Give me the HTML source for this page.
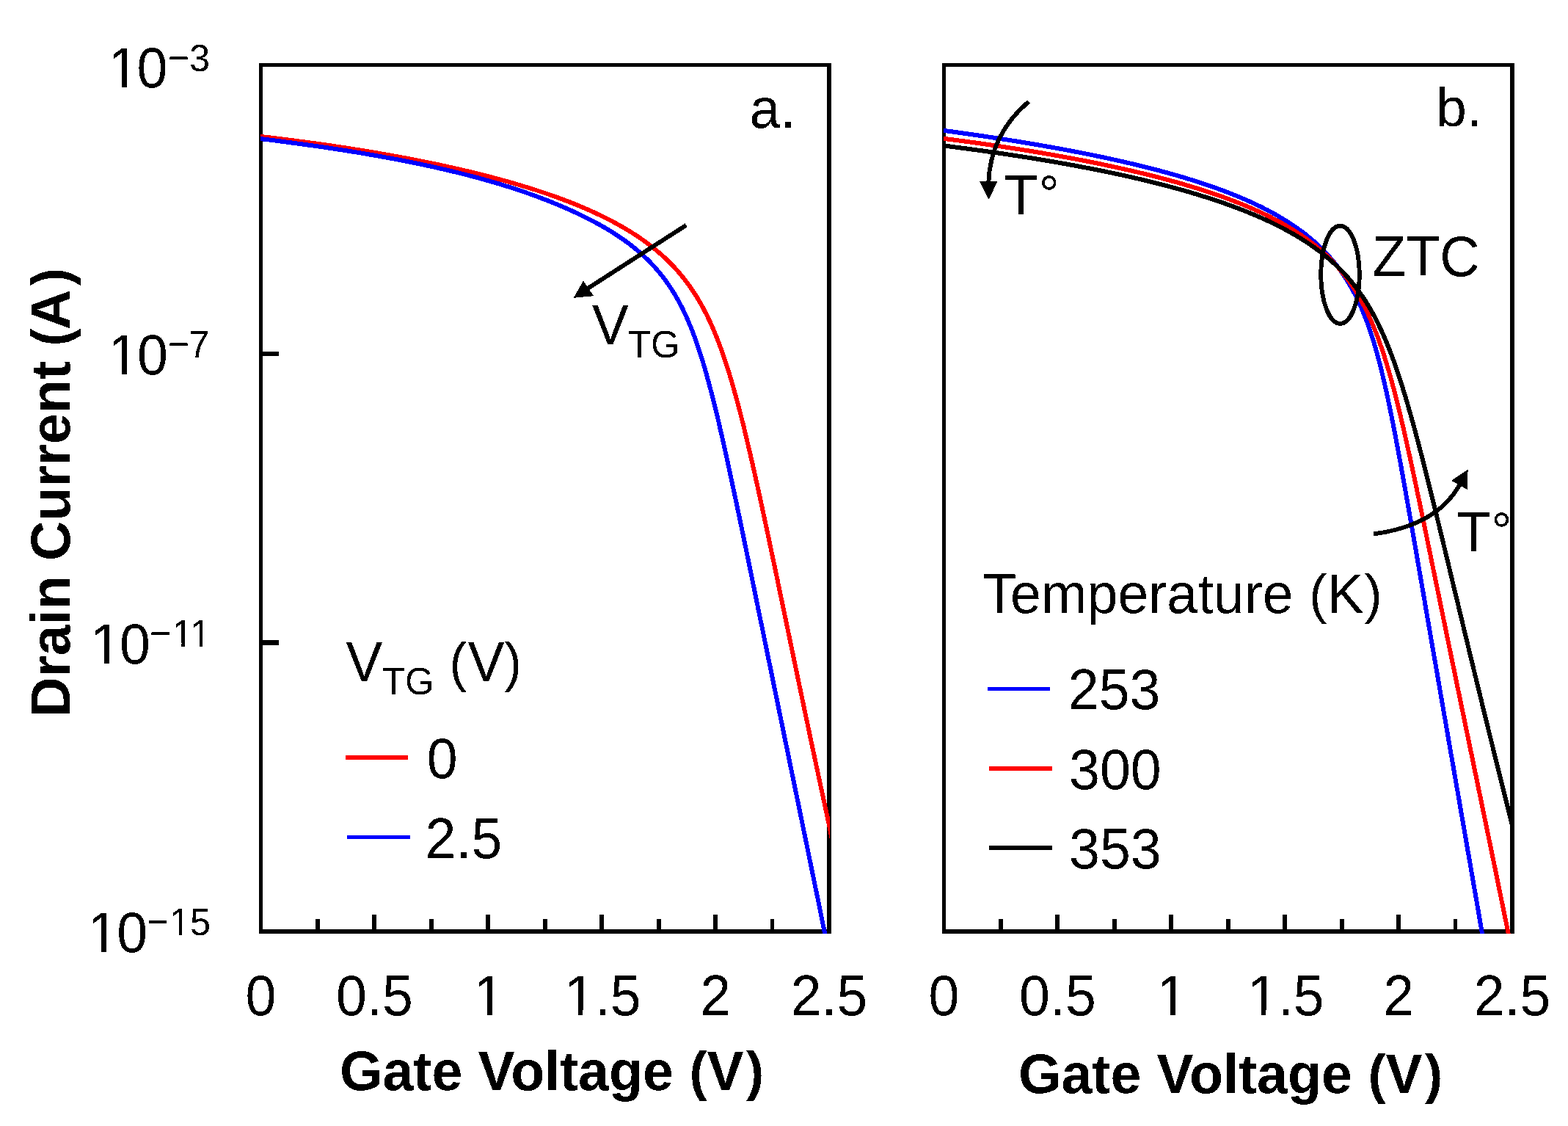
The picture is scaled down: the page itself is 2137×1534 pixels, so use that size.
<!DOCTYPE html>
<html lang="en">
<head>
<meta charset="utf-8">
<title>Drain current versus gate voltage</title>
<style>
html,body{margin:0;padding:0;background:#fff;}
body{width:2137px;height:1534px;overflow:hidden;}
svg{display:block;}
text{font-family:"Liberation Sans", Arial, Helvetica, sans-serif;font-size:75.3px;fill:#000;}
.b{font-weight:bold;}
.ax{fill:none;stroke:#000;stroke-width:5.5;stroke-linejoin:miter;}
.tk{stroke:#000;stroke-width:5.9;fill:none;}
.cv{fill:none;stroke-width:6.0;stroke-linejoin:round;shape-rendering:crispEdges;}
.an{fill:none;stroke:#000;stroke-width:5.9;}
.lh{fill:none;stroke-width:5.5;shape-rendering:crispEdges;}
</style>
</head>
<body>
<svg xmlns="http://www.w3.org/2000/svg" width="2137" height="1534" viewBox="0 0 2137 1534">
<rect x="0" y="0" width="2137" height="1534" fill="#ffffff"/>
<defs>
<filter id="crisp" filterUnits="userSpaceOnUse" x="0" y="0" width="2137" height="1534" color-interpolation-filters="sRGB">
<feComponentTransfer><feFuncR type="discrete" tableValues="0 1"/><feFuncG type="discrete" tableValues="0 1"/><feFuncB type="discrete" tableValues="0 1"/></feComponentTransfer>
</filter>
<clipPath id="ca"><rect x="355.0" y="88.5" width="776.0" height="1183.5"/></clipPath>
<clipPath id="cb"><rect x="1286.0" y="88.5" width="776.0" height="1183.5"/></clipPath>
<clipPath id="k1"><path clip-rule="evenodd" d="M0,0H2137V1534H0ZM150.93,108.31H166.10V116.23H150.93ZM172.75,108.31H187.07V116.23H172.75Z"/></clipPath>
<clipPath id="k2"><path clip-rule="evenodd" d="M0,0H2137V1534H0ZM150.93,484.36H166.10V492.29H150.93ZM172.75,484.36H187.07V492.29H172.75Z"/></clipPath>
<clipPath id="k3"><path clip-rule="evenodd" d="M0,0H2137V1534H0ZM126.83,863.31H142.00V871.23H126.83ZM148.65,863.31H162.97V871.23H148.65ZM237.28,843.13H247.47V849.21H237.28ZM251.94,843.13H261.56V849.21H251.94ZM261.58,843.13H271.77V849.21H261.58ZM276.24,843.13H285.86V849.21H276.24Z"/></clipPath>
<clipPath id="k4"><path clip-rule="evenodd" d="M0,0H2137V1534H0ZM122.93,1241.00H138.10V1248.92H122.93ZM144.75,1241.00H159.07V1248.92H144.75ZM233.58,1220.54H243.77V1226.62H233.58ZM248.24,1220.54H257.86V1226.62H248.24Z"/></clipPath>
<clipPath id="k5"><path clip-rule="evenodd" d="M0,0H2137V1534H0ZM649.13,1323.79H664.30V1331.71H649.13ZM670.95,1323.79H685.27V1331.71H670.95Z"/></clipPath>
<clipPath id="k6"><path clip-rule="evenodd" d="M0,0H2137V1534H0ZM772.63,1323.79H787.80V1331.71H772.63ZM794.45,1323.79H808.77V1331.71H794.45Z"/></clipPath>
<clipPath id="k7"><path clip-rule="evenodd" d="M0,0H2137V1534H0ZM1580.13,1323.79H1595.30V1331.71H1580.13ZM1601.95,1323.79H1616.27V1331.71H1601.95Z"/></clipPath>
<clipPath id="k8"><path clip-rule="evenodd" d="M0,0H2137V1534H0ZM1703.63,1323.79H1718.80V1331.71H1703.63ZM1725.45,1323.79H1739.77V1331.71H1725.45Z"/></clipPath>
</defs>
<g id="figure" filter="url(#crisp)">
<rect x="0" y="0" width="2137" height="1534" fill="#ffffff"/>
<g id="panel-a">
<rect class="ax" x="355.5" y="88.5" width="774.5" height="1180.5"/>
<path class="tk" d="M432.9,1269.0 v-17.0 M510.4,1269.0 v-23.0 M587.9,1269.0 v-17.0 M665.3,1269.0 v-23.0 M742.8,1269.0 v-17.0 M820.2,1269.0 v-23.0 M897.6,1269.0 v-17.0 M975.1,1269.0 v-23.0 M1052.5,1269.0 v-17.0 M355.5,482.0 h24.5 M355.5,875.5 h24.5"/>
<g clip-path="url(#ca)">
<path class="cv" stroke="#ff0000" d="M352.6,185.6 L353.6,185.8 L354.6,185.9 L355.6,186.0 L356.6,186.1 L357.6,186.2 L358.6,186.4 L359.6,186.5 L360.6,186.6 L361.6,186.7 L362.6,186.8 L363.6,186.9 L364.6,187.1 L365.6,187.2 L366.6,187.3 L367.6,187.4 L368.6,187.5 L369.6,187.7 L370.6,187.8 L371.6,187.9 L372.6,188.0 L373.6,188.1 L374.6,188.3 L375.6,188.4 L376.6,188.5 L377.6,188.6 L378.6,188.8 L379.6,188.9 L380.6,189.0 L381.6,189.1 L382.6,189.2 L383.6,189.4 L384.6,189.5 L385.6,189.6 L386.6,189.7 L387.6,189.9 L388.6,190.0 L389.6,190.1 L390.6,190.3 L391.6,190.4 L392.6,190.5 L393.6,190.6 L394.6,190.8 L395.6,190.9 L396.6,191.0 L397.6,191.1 L398.6,191.3 L399.6,191.4 L400.6,191.5 L401.6,191.7 L402.6,191.8 L403.6,191.9 L404.6,192.1 L405.6,192.2 L406.6,192.3 L407.6,192.5 L408.6,192.6 L409.6,192.7 L410.6,192.8 L411.6,193.0 L412.6,193.1 L413.6,193.3 L414.6,193.4 L415.6,193.5 L416.6,193.7 L417.6,193.8 L418.6,193.9 L419.6,194.1 L420.6,194.2 L421.6,194.3 L422.7,194.5 L423.7,194.6 L424.7,194.7 L425.7,194.9 L426.7,195.0 L427.7,195.2 L428.7,195.3 L429.7,195.4 L430.7,195.6 L431.7,195.7 L432.7,195.9 L433.7,196.0 L434.7,196.1 L435.7,196.3 L436.7,196.4 L437.7,196.6 L438.7,196.7 L439.7,196.8 L440.7,197.0 L441.7,197.1 L442.7,197.3 L443.7,197.4 L444.7,197.6 L445.7,197.7 L446.7,197.9 L447.7,198.0 L448.7,198.1 L449.7,198.3 L450.7,198.4 L451.7,198.6 L452.7,198.7 L453.7,198.9 L454.7,199.0 L455.7,199.2 L456.7,199.3 L457.7,199.5 L458.7,199.6 L459.7,199.8 L460.7,199.9 L461.7,200.1 L462.7,200.2 L463.7,200.4 L464.7,200.5 L465.7,200.7 L466.7,200.8 L467.7,201.0 L468.7,201.1 L469.7,201.3 L470.7,201.4 L471.7,201.6 L472.7,201.8 L473.7,201.9 L474.7,202.1 L475.7,202.2 L476.7,202.4 L477.7,202.5 L478.7,202.7 L479.7,202.9 L480.7,203.0 L481.7,203.2 L482.7,203.3 L483.7,203.5 L484.7,203.6 L485.7,203.8 L486.7,204.0 L487.7,204.1 L488.7,204.3 L489.7,204.4 L490.7,204.6 L491.7,204.8 L492.7,204.9 L493.7,205.1 L494.7,205.3 L495.7,205.4 L496.7,205.6 L497.7,205.7 L498.7,205.9 L499.7,206.1 L500.7,206.2 L501.7,206.4 L502.7,206.6 L503.7,206.7 L504.7,206.9 L505.7,207.1 L506.7,207.2 L507.7,207.4 L508.7,207.6 L509.7,207.7 L510.7,207.9 L511.7,208.1 L512.7,208.3 L513.7,208.4 L514.7,208.6 L515.7,208.8 L516.7,208.9 L517.7,209.1 L518.7,209.3 L519.7,209.5 L520.7,209.6 L521.7,209.8 L522.7,210.0 L523.7,210.2 L524.7,210.3 L525.7,210.5 L526.7,210.7 L527.7,210.9 L528.7,211.0 L529.7,211.2 L530.7,211.4 L531.7,211.6 L532.7,211.8 L533.7,211.9 L534.7,212.1 L535.7,212.3 L536.7,212.5 L537.7,212.7 L538.7,212.8 L539.7,213.0 L540.7,213.2 L541.7,213.4 L542.7,213.6 L543.7,213.8 L544.7,213.9 L545.7,214.1 L546.7,214.3 L547.7,214.5 L548.7,214.7 L549.7,214.9 L550.7,215.1 L551.7,215.2 L552.7,215.4 L553.7,215.6 L554.7,215.8 L555.7,216.0 L556.7,216.2 L557.7,216.4 L558.7,216.6 L559.7,216.8 L560.7,217.0 L561.7,217.2 L562.7,217.3 L563.7,217.5 L564.7,217.7 L565.7,217.9 L566.7,218.1 L567.7,218.3 L568.7,218.5 L569.7,218.7 L570.7,218.9 L571.7,219.1 L572.7,219.3 L573.7,219.5 L574.7,219.7 L575.7,219.9 L576.7,220.1 L577.7,220.3 L578.7,220.5 L579.7,220.7 L580.7,220.9 L581.7,221.1 L582.7,221.3 L583.7,221.5 L584.7,221.7 L585.7,221.9 L586.7,222.1 L587.7,222.3 L588.7,222.5 L589.7,222.8 L590.7,223.0 L591.7,223.2 L592.7,223.4 L593.7,223.6 L594.7,223.8 L595.7,224.0 L596.7,224.2 L597.7,224.4 L598.7,224.6 L599.7,224.9 L600.7,225.1 L601.7,225.3 L602.7,225.5 L603.7,225.7 L604.7,225.9 L605.7,226.1 L606.7,226.4 L607.7,226.6 L608.7,226.8 L609.7,227.0 L610.7,227.2 L611.7,227.5 L612.7,227.7 L613.7,227.9 L614.7,228.1 L615.7,228.3 L616.7,228.6 L617.7,228.8 L618.7,229.0 L619.7,229.2 L620.7,229.5 L621.7,229.7 L622.7,229.9 L623.7,230.2 L624.7,230.4 L625.7,230.6 L626.7,230.8 L627.7,231.1 L628.7,231.3 L629.7,231.5 L630.7,231.8 L631.7,232.0 L632.7,232.2 L633.7,232.5 L634.7,232.7 L635.7,232.9 L636.7,233.2 L637.7,233.4 L638.7,233.6 L639.7,233.9 L640.7,234.1 L641.7,234.4 L642.7,234.6 L643.7,234.8 L644.7,235.1 L645.7,235.3 L646.7,235.6 L647.7,235.8 L648.7,236.1 L649.7,236.3 L650.7,236.6 L651.7,236.8 L652.7,237.0 L653.7,237.3 L654.7,237.5 L655.7,237.8 L656.7,238.0 L657.7,238.3 L658.7,238.6 L659.7,238.8 L660.7,239.1 L661.7,239.3 L662.7,239.6 L663.7,239.8 L664.7,240.1 L665.7,240.3 L666.7,240.6 L667.7,240.9 L668.7,241.1 L669.7,241.4 L670.7,241.6 L671.7,241.9 L672.7,242.2 L673.7,242.4 L674.7,242.7 L675.7,243.0 L676.7,243.2 L677.7,243.5 L678.7,243.8 L679.6,244.0 L680.6,244.3 L681.6,244.6 L682.6,244.8 L683.6,245.1 L684.6,245.4 L685.6,245.7 L686.6,245.9 L687.6,246.2 L688.6,246.5 L689.6,246.8 L690.6,247.1 L691.6,247.3 L692.6,247.6 L693.6,247.9 L694.6,248.2 L695.6,248.5 L696.6,248.8 L697.6,249.0 L698.6,249.3 L699.6,249.6 L700.6,249.9 L701.6,250.2 L702.6,250.5 L703.6,250.8 L704.6,251.1 L705.6,251.4 L706.6,251.7 L707.6,252.0 L708.6,252.3 L709.6,252.6 L710.6,252.9 L711.6,253.2 L712.6,253.5 L713.6,253.8 L714.6,254.1 L715.6,254.4 L716.6,254.7 L717.6,255.0 L718.6,255.3 L719.6,255.6 L720.6,255.9 L721.6,256.2 L722.6,256.5 L723.6,256.8 L724.6,257.2 L725.6,257.5 L726.6,257.8 L727.6,258.1 L728.6,258.4 L729.6,258.7 L730.6,259.1 L731.6,259.4 L732.6,259.7 L733.6,260.0 L734.6,260.4 L735.6,260.7 L736.6,261.0 L737.6,261.4 L738.6,261.7 L739.6,262.0 L740.6,262.4 L741.6,262.7 L742.6,263.0 L743.6,263.4 L744.6,263.7 L745.6,264.0 L746.6,264.4 L747.6,264.7 L748.6,265.1 L749.6,265.4 L750.6,265.8 L751.5,266.1 L752.5,266.5 L753.5,266.8 L754.5,267.2 L755.5,267.5 L756.5,267.9 L757.5,268.2 L758.5,268.6 L759.5,269.0 L760.5,269.3 L761.5,269.7 L762.5,270.1 L763.5,270.4 L764.5,270.8 L765.5,271.2 L766.5,271.5 L767.5,271.9 L768.5,272.3 L769.5,272.7 L770.5,273.0 L771.5,273.4 L772.5,273.8 L773.5,274.2 L774.5,274.6 L775.5,275.0 L776.5,275.3 L777.5,275.7 L778.5,276.1 L779.5,276.5 L780.5,276.9 L781.5,277.3 L782.5,277.7 L783.5,278.1 L784.5,278.5 L785.5,278.9 L786.5,279.3 L787.5,279.7 L788.5,280.2 L789.5,280.6 L790.5,281.0 L791.5,281.4 L792.5,281.8 L793.5,282.2 L794.5,282.7 L795.5,283.1 L796.5,283.5 L797.5,283.9 L798.5,284.4 L799.5,284.8 L800.5,285.2 L801.4,285.7 L802.4,286.1 L803.4,286.6 L804.4,287.0 L805.4,287.5 L806.4,287.9 L807.4,288.4 L808.4,288.8 L809.4,289.3 L810.4,289.7 L811.4,290.2 L812.4,290.6 L813.4,291.1 L814.4,291.6 L815.4,292.1 L816.4,292.5 L817.4,293.0 L818.4,293.5 L819.4,294.0 L820.4,294.4 L821.4,294.9 L822.4,295.4 L823.4,295.9 L824.4,296.4 L825.4,296.9 L826.4,297.4 L827.4,297.9 L828.4,298.4 L829.4,298.9 L830.4,299.4 L831.4,300.0 L832.4,300.5 L833.4,301.0 L834.4,301.5 L835.4,302.1 L836.4,302.6 L837.4,303.1 L838.4,303.7 L839.4,304.2 L840.4,304.8 L841.3,305.3 L842.3,305.9 L843.3,306.4 L844.3,307.0 L845.3,307.5 L846.3,308.1 L847.3,308.7 L848.3,309.2 L849.3,309.8 L850.3,310.4 L851.3,311.0 L852.3,311.6 L853.3,312.2 L854.3,312.8 L855.3,313.4 L856.3,314.0 L857.3,314.6 L858.3,315.2 L859.3,315.8 L860.3,316.4 L861.3,317.1 L862.3,317.7 L863.3,318.3 L864.3,319.0 L865.3,319.6 L866.3,320.3 L867.3,320.9 L868.3,321.6 L869.3,322.3 L870.3,322.9 L871.3,323.6 L872.3,324.3 L873.3,325.0 L874.3,325.7 L875.3,326.4 L876.3,327.1 L877.2,327.8 L878.2,328.5 L879.2,329.2 L880.2,330.0 L881.2,330.7 L882.2,331.4 L883.2,332.2 L884.2,332.9 L885.2,333.7 L886.2,334.4 L887.2,335.2 L888.2,336.0 L889.2,336.8 L890.2,337.6 L891.2,338.4 L892.2,339.2 L893.2,340.0 L894.2,340.8 L895.2,341.7 L896.2,342.5 L897.2,343.3 L898.2,344.2 L899.2,345.1 L900.2,345.9 L901.2,346.8 L902.2,347.7 L903.2,348.6 L904.2,349.5 L905.2,350.4 L906.2,351.3 L907.2,352.3 L908.2,353.2 L909.2,354.2 L910.2,355.1 L911.2,356.1 L912.2,357.1 L913.2,358.1 L914.2,359.1 L915.2,360.1 L916.2,361.2 L917.2,362.2 L918.2,363.3 L919.1,364.3 L920.1,365.4 L921.1,366.5 L922.1,367.6 L923.1,368.7 L924.1,369.9 L925.1,371.0 L926.1,372.2 L927.1,373.4 L928.1,374.6 L929.1,375.8 L930.1,377.0 L931.1,378.2 L932.1,379.5 L933.1,380.8 L934.1,382.0 L935.1,383.4 L936.1,384.7 L937.1,386.0 L938.1,387.4 L939.1,388.8 L940.1,390.2 L941.1,391.6 L942.1,393.0 L943.1,394.5 L944.1,396.0 L945.1,397.5 L946.1,399.0 L947.1,400.6 L948.1,402.1 L949.1,403.7 L950.1,405.3 L951.1,407.0 L952.1,408.7 L953.1,410.4 L954.1,412.1 L955.1,413.8 L956.1,415.6 L957.1,417.4 L958.1,419.3 L959.1,421.1 L960.1,423.0 L961.1,425.0 L962.1,426.9 L963.1,428.9 L964.1,430.9 L965.1,433.0 L966.1,435.1 L967.1,437.2 L968.1,439.4 L969.1,441.6 L970.1,443.8 L971.1,446.1 L972.1,448.4 L973.1,450.7 L974.1,453.1 L975.1,455.6 L976.1,458.0 L977.1,460.5 L978.1,463.1 L979.1,465.7 L980.1,468.3 L981.1,471.0 L982.1,473.7 L983.1,476.4 L984.1,479.2 L985.1,482.1 L986.1,485.0 L987.1,487.9 L988.1,490.9 L989.1,493.9 L990.1,497.0 L991.1,500.1 L992.1,503.2 L993.1,506.4 L994.1,509.7 L995.1,513.0 L996.1,516.3 L997.1,519.7 L998.1,523.1 L999.1,526.6 L1000.1,530.1 L1001.1,533.6 L1002.1,537.2 L1003.1,540.8 L1004.1,544.5 L1005.1,548.2 L1006.1,551.9 L1007.1,555.7 L1008.1,559.5 L1009.1,563.4 L1010.1,567.3 L1011.1,571.2 L1012.1,575.2 L1013.1,579.2 L1014.1,583.2 L1015.1,587.3 L1016.0,591.4 L1017.0,595.5 L1018.0,599.7 L1019.0,603.9 L1020.0,608.1 L1021.0,612.3 L1022.0,616.6 L1023.0,620.9 L1024.0,625.2 L1025.0,629.5 L1026.0,633.9 L1027.0,638.2 L1028.0,642.7 L1028.9,647.1 L1029.9,651.5 L1030.9,656.0 L1031.9,660.4 L1032.9,664.9 L1033.9,669.4 L1034.9,674.0 L1035.9,678.5 L1036.9,683.1 L1037.9,687.6 L1038.8,692.2 L1039.8,696.8 L1040.8,701.4 L1041.8,706.0 L1042.8,710.7 L1043.8,715.3 L1044.8,720.0 L1045.8,724.6 L1046.8,729.3 L1047.8,734.0 L1048.7,738.6 L1049.7,743.3 L1050.7,748.0 L1051.7,752.7 L1052.7,757.4 L1053.7,762.2 L1054.7,766.9 L1055.7,771.6 L1056.7,776.4 L1057.7,781.1 L1058.7,785.8 L1059.7,790.6 L1060.6,795.3 L1061.6,800.1 L1062.6,804.9 L1063.6,809.6 L1064.6,814.4 L1065.6,819.2 L1066.6,824.0 L1067.6,828.7 L1068.6,833.5 L1069.6,838.3 L1070.6,843.1 L1071.6,847.9 L1072.6,852.7 L1073.6,857.5 L1074.6,862.3 L1075.6,867.1 L1076.6,871.9 L1077.6,876.7 L1078.6,881.5 L1079.6,886.3 L1080.6,891.1 L1081.6,895.9 L1082.6,900.7 L1083.6,905.5 L1084.6,910.3 L1085.6,915.1 L1086.6,920.0 L1087.6,924.8 L1088.6,929.6 L1089.6,934.4 L1090.6,939.2 L1091.7,944.0 L1092.7,948.9 L1093.7,953.7 L1094.7,958.5 L1095.7,963.3 L1096.7,968.1 L1097.7,973.0 L1098.7,977.8 L1099.8,982.6 L1100.8,987.4 L1101.8,992.3 L1102.8,997.1 L1103.8,1001.9 L1104.8,1006.7 L1105.9,1011.6 L1106.9,1016.4 L1107.9,1021.2 L1108.9,1026.0 L1110.0,1030.9 L1111.0,1035.7 L1112.0,1040.5 L1113.0,1045.3 L1114.1,1050.2 L1115.1,1055.0 L1116.1,1059.8 L1117.2,1064.6 L1118.2,1069.5 L1119.2,1074.3 L1120.3,1079.1 L1121.3,1083.9 L1122.4,1088.8 L1123.4,1093.6 L1124.4,1098.4 L1125.5,1103.2 L1126.5,1108.0 L1127.6,1112.9 L1128.6,1117.7 L1129.6,1122.5 L1130.6,1127.4 L1131.6,1132.2 L1132.6,1137.0 L1133.6,1141.9 L1134.6,1146.7 L1135.6,1151.5 L1136.6,1156.4 L1137.6,1161.2 L1138.6,1166.0 L1139.6,1170.9 L1140.6,1175.7 L1141.6,1180.5 L1142.6,1185.4 L1143.6,1190.2 L1144.6,1195.1"/>
<path class="cv" stroke="#0000ff" d="M352.6,188.7 L353.6,188.9 L354.6,189.0 L355.6,189.1 L356.6,189.3 L357.6,189.4 L358.6,189.5 L359.7,189.6 L360.7,189.8 L361.7,189.9 L362.7,190.0 L363.7,190.1 L364.7,190.3 L365.7,190.4 L366.7,190.5 L367.7,190.6 L368.7,190.8 L369.7,190.9 L370.7,191.0 L371.7,191.1 L372.7,191.3 L373.7,191.4 L374.7,191.5 L375.7,191.6 L376.7,191.8 L377.7,191.9 L378.7,192.0 L379.7,192.2 L380.7,192.3 L381.7,192.4 L382.7,192.5 L383.7,192.7 L384.7,192.8 L385.7,192.9 L386.7,193.1 L387.7,193.2 L388.7,193.3 L389.7,193.5 L390.7,193.6 L391.7,193.7 L392.7,193.9 L393.7,194.0 L394.7,194.1 L395.7,194.3 L396.7,194.4 L397.7,194.5 L398.7,194.7 L399.7,194.8 L400.7,194.9 L401.7,195.1 L402.7,195.2 L403.7,195.3 L404.7,195.5 L405.7,195.6 L406.7,195.7 L407.7,195.9 L408.7,196.0 L409.7,196.1 L410.7,196.3 L411.7,196.4 L412.7,196.6 L413.7,196.7 L414.7,196.8 L415.7,197.0 L416.7,197.1 L417.7,197.3 L418.7,197.4 L419.7,197.5 L420.7,197.7 L421.7,197.8 L422.7,198.0 L423.8,198.1 L424.8,198.2 L425.8,198.4 L426.8,198.5 L427.8,198.7 L428.8,198.8 L429.8,199.0 L430.8,199.1 L431.8,199.2 L432.8,199.4 L433.8,199.5 L434.8,199.7 L435.8,199.8 L436.8,200.0 L437.8,200.1 L438.8,200.3 L439.8,200.4 L440.8,200.5 L441.8,200.7 L442.8,200.8 L443.8,201.0 L444.8,201.1 L445.8,201.3 L446.8,201.4 L447.8,201.6 L448.8,201.7 L449.8,201.9 L450.8,202.0 L451.8,202.2 L452.8,202.3 L453.8,202.5 L454.8,202.6 L455.8,202.8 L456.8,202.9 L457.8,203.1 L458.8,203.3 L459.8,203.4 L460.8,203.6 L461.8,203.7 L462.8,203.9 L463.8,204.0 L464.8,204.2 L465.8,204.3 L466.8,204.5 L467.8,204.6 L468.8,204.8 L469.8,205.0 L470.8,205.1 L471.8,205.3 L472.8,205.4 L473.8,205.6 L474.8,205.8 L475.8,205.9 L476.8,206.1 L477.8,206.2 L478.8,206.4 L479.8,206.6 L480.8,206.7 L481.8,206.9 L482.8,207.0 L483.8,207.2 L484.8,207.4 L485.8,207.5 L486.8,207.7 L487.9,207.9 L488.9,208.0 L489.9,208.2 L490.9,208.4 L491.9,208.5 L492.9,208.7 L493.9,208.9 L494.9,209.0 L495.9,209.2 L496.9,209.4 L497.9,209.5 L498.9,209.7 L499.9,209.9 L500.9,210.0 L501.9,210.2 L502.9,210.4 L503.9,210.6 L504.9,210.7 L505.9,210.9 L506.9,211.1 L507.9,211.3 L508.9,211.4 L509.9,211.6 L510.9,211.8 L511.9,212.0 L512.9,212.1 L513.9,212.3 L514.9,212.5 L515.9,212.7 L516.9,212.8 L517.9,213.0 L518.9,213.2 L519.9,213.4 L520.9,213.6 L521.9,213.7 L522.9,213.9 L523.9,214.1 L524.9,214.3 L525.9,214.5 L526.9,214.6 L527.9,214.8 L528.9,215.0 L529.9,215.2 L530.9,215.4 L531.9,215.6 L532.9,215.8 L533.9,215.9 L534.9,216.1 L535.9,216.3 L536.9,216.5 L537.9,216.7 L538.9,216.9 L539.9,217.1 L540.9,217.3 L541.9,217.4 L542.9,217.6 L543.9,217.8 L544.9,218.0 L545.9,218.2 L546.9,218.4 L547.9,218.6 L548.9,218.8 L549.9,219.0 L550.9,219.2 L551.9,219.4 L552.9,219.6 L553.9,219.8 L554.9,220.0 L555.9,220.2 L556.9,220.4 L557.9,220.6 L558.9,220.8 L559.9,221.0 L560.9,221.2 L561.9,221.4 L562.9,221.6 L563.9,221.8 L564.9,222.0 L565.9,222.2 L566.9,222.4 L567.9,222.6 L568.9,222.8 L569.9,223.0 L570.9,223.2 L571.9,223.4 L572.9,223.6 L573.9,223.9 L574.9,224.1 L575.9,224.3 L576.9,224.5 L577.9,224.7 L578.9,224.9 L579.9,225.1 L580.9,225.3 L581.9,225.6 L582.9,225.8 L583.9,226.0 L584.9,226.2 L585.9,226.4 L586.9,226.6 L587.9,226.9 L588.9,227.1 L589.9,227.3 L590.9,227.5 L591.9,227.7 L592.9,228.0 L593.9,228.2 L594.9,228.4 L595.9,228.6 L596.9,228.9 L597.9,229.1 L598.9,229.3 L599.9,229.5 L600.9,229.8 L601.9,230.0 L602.9,230.2 L603.9,230.5 L604.9,230.7 L605.9,230.9 L606.9,231.1 L607.9,231.4 L608.9,231.6 L609.9,231.8 L610.9,232.1 L611.9,232.3 L612.9,232.6 L613.9,232.8 L614.9,233.0 L615.9,233.3 L616.9,233.5 L617.9,233.8 L618.9,234.0 L619.9,234.2 L620.9,234.5 L621.9,234.7 L622.9,235.0 L623.9,235.2 L624.9,235.5 L625.9,235.7 L626.9,236.0 L627.9,236.2 L628.9,236.5 L629.9,236.7 L630.9,237.0 L631.9,237.2 L632.9,237.5 L633.9,237.7 L634.9,238.0 L635.9,238.2 L636.9,238.5 L637.9,238.7 L638.9,239.0 L639.9,239.3 L640.9,239.5 L641.9,239.8 L642.9,240.0 L643.9,240.3 L644.9,240.6 L645.9,240.8 L646.9,241.1 L647.9,241.4 L648.9,241.6 L649.9,241.9 L650.9,242.2 L651.9,242.4 L652.9,242.7 L653.9,243.0 L654.9,243.3 L655.9,243.5 L656.9,243.8 L657.9,244.1 L658.9,244.4 L659.9,244.6 L660.9,244.9 L661.9,245.2 L662.9,245.5 L663.9,245.8 L664.9,246.1 L665.9,246.3 L666.9,246.6 L667.9,246.9 L668.9,247.2 L669.9,247.5 L670.9,247.8 L671.8,248.1 L672.8,248.4 L673.8,248.7 L674.8,248.9 L675.8,249.2 L676.8,249.5 L677.8,249.8 L678.8,250.1 L679.8,250.4 L680.8,250.7 L681.8,251.0 L682.8,251.3 L683.8,251.6 L684.8,251.9 L685.8,252.2 L686.8,252.6 L687.8,252.9 L688.8,253.2 L689.8,253.5 L690.8,253.8 L691.8,254.1 L692.8,254.4 L693.8,254.7 L694.8,255.1 L695.8,255.4 L696.8,255.7 L697.8,256.0 L698.8,256.3 L699.7,256.7 L700.7,257.0 L701.7,257.3 L702.7,257.6 L703.7,258.0 L704.7,258.3 L705.7,258.6 L706.7,258.9 L707.7,259.3 L708.7,259.6 L709.7,259.9 L710.7,260.3 L711.7,260.6 L712.7,261.0 L713.7,261.3 L714.7,261.6 L715.7,262.0 L716.7,262.3 L717.7,262.7 L718.7,263.0 L719.6,263.4 L720.6,263.7 L721.6,264.1 L722.6,264.4 L723.6,264.8 L724.6,265.1 L725.6,265.5 L726.6,265.9 L727.6,266.2 L728.6,266.6 L729.6,266.9 L730.6,267.3 L731.6,267.7 L732.6,268.0 L733.6,268.4 L734.6,268.8 L735.6,269.1 L736.5,269.5 L737.5,269.9 L738.5,270.3 L739.5,270.7 L740.5,271.0 L741.5,271.4 L742.5,271.8 L743.5,272.2 L744.5,272.6 L745.5,273.0 L746.5,273.3 L747.5,273.7 L748.5,274.1 L749.5,274.5 L750.5,274.9 L751.4,275.3 L752.4,275.7 L753.4,276.1 L754.4,276.5 L755.4,276.9 L756.4,277.3 L757.4,277.7 L758.4,278.1 L759.4,278.6 L760.4,279.0 L761.4,279.4 L762.4,279.8 L763.4,280.2 L764.4,280.6 L765.3,281.1 L766.3,281.5 L767.3,281.9 L768.3,282.3 L769.3,282.8 L770.3,283.2 L771.3,283.6 L772.3,284.1 L773.3,284.5 L774.3,285.0 L775.3,285.4 L776.3,285.8 L777.3,286.3 L778.2,286.7 L779.2,287.2 L780.2,287.6 L781.2,288.1 L782.2,288.6 L783.2,289.0 L784.2,289.5 L785.2,289.9 L786.2,290.4 L787.2,290.9 L788.2,291.4 L789.2,291.8 L790.2,292.3 L791.2,292.8 L792.2,293.3 L793.1,293.7 L794.1,294.2 L795.1,294.7 L796.1,295.2 L797.1,295.7 L798.1,296.2 L799.1,296.7 L800.1,297.2 L801.1,297.7 L802.1,298.2 L803.1,298.7 L804.1,299.2 L805.1,299.7 L806.1,300.3 L807.1,300.8 L808.1,301.3 L809.1,301.8 L810.1,302.4 L811.0,302.9 L812.0,303.4 L813.0,304.0 L814.0,304.5 L815.0,305.0 L816.0,305.6 L817.0,306.1 L818.0,306.7 L819.0,307.3 L820.0,307.8 L821.0,308.4 L822.0,309.0 L823.0,309.5 L824.0,310.1 L825.0,310.7 L826.0,311.3 L827.0,311.9 L828.0,312.5 L829.0,313.1 L830.0,313.7 L831.0,314.3 L832.0,314.9 L833.0,315.5 L834.0,316.1 L835.0,316.7 L836.0,317.4 L837.0,318.0 L838.0,318.6 L839.0,319.3 L840.0,319.9 L841.0,320.6 L842.0,321.2 L843.0,321.9 L844.0,322.6 L845.0,323.3 L846.0,323.9 L847.0,324.6 L848.0,325.3 L849.0,326.0 L850.0,326.7 L851.0,327.4 L852.0,328.1 L853.0,328.9 L854.0,329.6 L855.0,330.3 L856.0,331.1 L857.0,331.8 L858.0,332.6 L859.0,333.3 L860.0,334.1 L861.0,334.9 L862.0,335.7 L863.0,336.5 L864.0,337.3 L865.0,338.1 L866.0,338.9 L867.0,339.7 L868.0,340.6 L869.0,341.4 L870.0,342.2 L871.0,343.1 L872.0,344.0 L873.0,344.9 L874.0,345.7 L875.0,346.6 L876.0,347.5 L877.0,348.5 L878.0,349.4 L879.0,350.3 L880.0,351.3 L881.0,352.2 L882.0,353.2 L883.0,354.2 L884.0,355.2 L885.0,356.2 L886.0,357.2 L887.0,358.3 L888.0,359.3 L889.0,360.4 L890.0,361.4 L891.0,362.5 L892.0,363.6 L893.0,364.7 L894.0,365.9 L895.0,367.0 L896.0,368.2 L897.0,369.4 L898.0,370.6 L899.0,371.8 L900.0,373.0 L901.0,374.2 L902.0,375.5 L903.0,376.8 L904.0,378.1 L905.0,379.4 L906.0,380.7 L907.0,382.1 L908.0,383.5 L909.0,384.9 L910.0,386.3 L911.0,387.8 L912.0,389.2 L913.0,390.7 L914.0,392.2 L915.0,393.8 L916.0,395.4 L917.0,396.9 L918.0,398.6 L919.1,400.2 L920.1,401.9 L921.1,403.6 L922.1,405.3 L923.1,407.1 L924.1,408.9 L925.1,410.7 L926.1,412.6 L927.1,414.5 L928.1,416.4 L929.1,418.4 L930.1,420.4 L931.1,422.4 L932.1,424.5 L933.1,426.6 L934.1,428.7 L935.1,430.9 L936.1,433.1 L937.1,435.4 L938.1,437.7 L939.1,440.1 L940.1,442.5 L941.1,444.9 L942.1,447.4 L943.1,449.9 L944.1,452.5 L945.1,455.1 L946.1,457.8 L947.1,460.5 L948.1,463.3 L949.1,466.1 L950.1,468.9 L951.1,471.9 L952.1,474.8 L953.1,477.8 L954.1,480.9 L955.1,484.0 L956.1,487.2 L957.1,490.4 L958.1,493.6 L959.1,497.0 L960.1,500.3 L961.1,503.7 L962.1,507.2 L963.1,510.7 L964.0,514.3 L965.0,517.9 L966.0,521.5 L967.0,525.2 L968.0,529.0 L969.0,532.8 L970.0,536.6 L971.0,540.5 L972.0,544.4 L973.0,548.4 L974.0,552.4 L975.0,556.4 L976.0,560.5 L977.0,564.6 L978.0,568.8 L979.0,573.0 L980.0,577.2 L980.9,581.5 L981.9,585.8 L982.9,590.1 L983.9,594.4 L984.9,598.8 L985.9,603.2 L986.9,607.6 L987.9,612.1 L988.9,616.6 L989.9,621.1 L990.9,625.6 L991.9,630.2 L992.8,634.7 L993.8,639.3 L994.8,643.9 L995.8,648.6 L996.8,653.2 L997.8,657.9 L998.8,662.5 L999.8,667.2 L1000.8,671.9 L1001.8,676.6 L1002.8,681.4 L1003.8,686.1 L1004.8,690.9 L1005.8,695.6 L1006.8,700.4 L1007.8,705.2 L1008.8,710.0 L1009.8,714.8 L1010.8,719.6 L1011.8,724.4 L1012.8,729.2 L1013.8,734.0 L1014.8,738.9 L1015.8,743.7 L1016.8,748.6 L1017.8,753.4 L1018.8,758.3 L1019.8,763.1 L1020.8,768.0 L1021.8,772.9 L1022.8,777.7 L1023.8,782.6 L1024.8,787.5 L1025.8,792.4 L1026.8,797.3 L1027.8,802.2 L1028.8,807.0 L1029.8,811.9 L1030.8,816.8 L1031.8,821.7 L1032.8,826.6 L1033.8,831.6 L1034.8,836.5 L1035.8,841.4 L1036.8,846.3 L1037.9,851.2 L1038.9,856.1 L1039.9,861.0 L1040.9,865.9 L1041.9,870.9 L1042.9,875.8 L1043.9,880.7 L1044.9,885.6 L1045.9,890.5 L1046.9,895.5 L1048.0,900.4 L1049.0,905.3 L1050.0,910.2 L1051.0,915.2 L1052.0,920.1 L1053.0,925.0 L1054.0,930.0 L1055.0,934.9 L1056.0,939.8 L1057.1,944.7 L1058.1,949.7 L1059.1,954.6 L1060.1,959.5 L1061.1,964.5 L1062.1,969.4 L1063.1,974.3 L1064.2,979.3 L1065.2,984.2 L1066.2,989.1 L1067.2,994.1 L1068.2,999.0 L1069.2,1003.9 L1070.2,1008.9 L1071.3,1013.8 L1072.3,1018.7 L1073.3,1023.7 L1074.3,1028.6 L1075.3,1033.6 L1076.3,1038.5 L1077.3,1043.4 L1078.4,1048.4 L1079.4,1053.3 L1080.4,1058.2 L1081.4,1063.2 L1082.4,1068.1 L1083.4,1073.0 L1084.4,1078.0 L1085.5,1082.9 L1086.5,1087.9 L1087.5,1092.8 L1088.5,1097.7 L1089.5,1102.7 L1090.5,1107.6 L1091.5,1112.5 L1092.6,1117.5 L1093.6,1122.4 L1094.6,1127.4 L1095.6,1132.3 L1096.6,1137.2 L1097.6,1142.2 L1098.7,1147.1 L1099.7,1152.0 L1100.7,1157.0 L1101.7,1161.9 L1102.7,1166.9 L1103.7,1171.8 L1104.7,1176.7 L1105.7,1181.7 L1106.8,1186.6 L1107.8,1191.6 L1108.8,1196.5 L1109.8,1201.4 L1110.8,1206.4 L1111.8,1211.3 L1112.8,1216.2 L1113.9,1221.2 L1114.9,1226.1 L1115.9,1231.1 L1116.9,1236.0 L1117.9,1240.9 L1118.9,1245.9 L1119.9,1250.8 L1120.9,1255.8 L1121.9,1260.7 L1123.0,1265.6 L1124.0,1270.6 L1125.0,1275.5 L1126.0,1280.5 L1127.0,1285.4 L1128.0,1290.3 L1129.0,1295.3 L1130.0,1300.2 L1131.0,1305.2 L1132.0,1310.1 L1133.0,1315.1 L1134.0,1320.0 L1135.0,1324.9 L1136.0,1329.9"/>
</g>
</g>
<g id="panel-b">
<rect class="ax" x="1286.5" y="88.5" width="774.5" height="1180.5"/>
<path class="tk" d="M1364.0,1269.0 v-17.0 M1441.4,1269.0 v-23.0 M1518.8,1269.0 v-17.0 M1596.3,1269.0 v-23.0 M1673.8,1269.0 v-17.0 M1751.2,1269.0 v-23.0 M1828.7,1269.0 v-17.0 M1906.1,1269.0 v-23.0 M1983.5,1269.0 v-17.0"/>
<g clip-path="url(#cb)">
<path class="cv" stroke="#0000ff" d="M1283.5,177.5 L1284.5,177.6 L1285.5,177.8 L1286.5,177.9 L1287.5,178.0 L1288.5,178.2 L1289.5,178.3 L1290.5,178.4 L1291.5,178.6 L1292.5,178.7 L1293.5,178.8 L1294.5,179.0 L1295.5,179.1 L1296.5,179.2 L1297.5,179.4 L1298.5,179.5 L1299.5,179.7 L1300.5,179.8 L1301.5,179.9 L1302.5,180.1 L1303.5,180.2 L1304.5,180.4 L1305.5,180.5 L1306.5,180.6 L1307.5,180.8 L1308.5,180.9 L1309.5,181.1 L1310.5,181.2 L1311.5,181.3 L1312.5,181.5 L1313.5,181.6 L1314.5,181.8 L1315.5,181.9 L1316.5,182.0 L1317.5,182.2 L1318.5,182.3 L1319.5,182.5 L1320.5,182.6 L1321.5,182.8 L1322.5,182.9 L1323.5,183.1 L1324.5,183.2 L1325.5,183.3 L1326.5,183.5 L1327.5,183.6 L1328.5,183.8 L1329.5,183.9 L1330.5,184.1 L1331.5,184.2 L1332.5,184.4 L1333.5,184.5 L1334.5,184.7 L1335.5,184.8 L1336.5,184.9 L1337.5,185.1 L1338.5,185.2 L1339.5,185.4 L1340.5,185.5 L1341.5,185.7 L1342.5,185.8 L1343.5,186.0 L1344.5,186.1 L1345.5,186.3 L1346.5,186.4 L1347.5,186.6 L1348.5,186.7 L1349.5,186.9 L1350.5,187.0 L1351.5,187.2 L1352.5,187.3 L1353.5,187.5 L1354.5,187.7 L1355.5,187.8 L1356.5,188.0 L1357.5,188.1 L1358.5,188.3 L1359.5,188.4 L1360.5,188.6 L1361.5,188.7 L1362.5,188.9 L1363.5,189.0 L1364.5,189.2 L1365.5,189.3 L1366.5,189.5 L1367.5,189.7 L1368.5,189.8 L1369.5,190.0 L1370.5,190.1 L1371.5,190.3 L1372.5,190.4 L1373.5,190.6 L1374.5,190.8 L1375.5,190.9 L1376.5,191.1 L1377.4,191.2 L1378.4,191.4 L1379.4,191.6 L1380.4,191.7 L1381.4,191.9 L1382.4,192.0 L1383.4,192.2 L1384.4,192.4 L1385.4,192.5 L1386.4,192.7 L1387.4,192.9 L1388.4,193.0 L1389.4,193.2 L1390.4,193.3 L1391.4,193.5 L1392.4,193.7 L1393.4,193.8 L1394.4,194.0 L1395.4,194.2 L1396.4,194.3 L1397.4,194.5 L1398.4,194.7 L1399.4,194.8 L1400.4,195.0 L1401.4,195.2 L1402.4,195.3 L1403.4,195.5 L1404.4,195.7 L1405.4,195.8 L1406.4,196.0 L1407.4,196.2 L1408.4,196.3 L1409.4,196.5 L1410.4,196.7 L1411.4,196.9 L1412.4,197.0 L1413.4,197.2 L1414.4,197.4 L1415.4,197.5 L1416.4,197.7 L1417.4,197.9 L1418.4,198.1 L1419.4,198.2 L1420.4,198.4 L1421.4,198.6 L1422.4,198.8 L1423.4,198.9 L1424.4,199.1 L1425.4,199.3 L1426.4,199.5 L1427.4,199.6 L1428.4,199.8 L1429.4,200.0 L1430.4,200.2 L1431.4,200.3 L1432.4,200.5 L1433.4,200.7 L1434.4,200.9 L1435.4,201.1 L1436.4,201.2 L1437.4,201.4 L1438.4,201.6 L1439.4,201.8 L1440.4,202.0 L1441.4,202.1 L1442.4,202.3 L1443.4,202.5 L1444.4,202.7 L1445.4,202.9 L1446.4,203.1 L1447.4,203.3 L1448.4,203.4 L1449.4,203.6 L1450.4,203.8 L1451.4,204.0 L1452.4,204.2 L1453.4,204.4 L1454.4,204.6 L1455.4,204.7 L1456.4,204.9 L1457.4,205.1 L1458.4,205.3 L1459.4,205.5 L1460.4,205.7 L1461.4,205.9 L1462.4,206.1 L1463.4,206.3 L1464.4,206.5 L1465.4,206.7 L1466.4,206.8 L1467.4,207.0 L1468.4,207.2 L1469.4,207.4 L1470.4,207.6 L1471.4,207.8 L1472.4,208.0 L1473.4,208.2 L1474.4,208.4 L1475.4,208.6 L1476.4,208.8 L1477.4,209.0 L1478.4,209.2 L1479.4,209.4 L1480.4,209.6 L1481.4,209.8 L1482.4,210.0 L1483.4,210.2 L1484.4,210.4 L1485.4,210.6 L1486.4,210.8 L1487.4,211.0 L1488.4,211.2 L1489.4,211.4 L1490.4,211.6 L1491.4,211.8 L1492.4,212.0 L1493.4,212.2 L1494.4,212.4 L1495.4,212.7 L1496.4,212.9 L1497.4,213.1 L1498.4,213.3 L1499.4,213.5 L1500.4,213.7 L1501.4,213.9 L1502.4,214.1 L1503.4,214.3 L1504.4,214.5 L1505.4,214.8 L1506.5,215.0 L1507.5,215.2 L1508.5,215.4 L1509.5,215.6 L1510.5,215.8 L1511.5,216.1 L1512.5,216.3 L1513.5,216.5 L1514.5,216.7 L1515.5,216.9 L1516.5,217.1 L1517.5,217.4 L1518.5,217.6 L1519.5,217.8 L1520.5,218.0 L1521.5,218.2 L1522.5,218.5 L1523.5,218.7 L1524.5,218.9 L1525.5,219.1 L1526.5,219.4 L1527.5,219.6 L1528.5,219.8 L1529.5,220.1 L1530.5,220.3 L1531.5,220.5 L1532.5,220.7 L1533.5,221.0 L1534.5,221.2 L1535.5,221.4 L1536.5,221.7 L1537.5,221.9 L1538.5,222.1 L1539.5,222.4 L1540.5,222.6 L1541.5,222.8 L1542.5,223.1 L1543.5,223.3 L1544.5,223.5 L1545.5,223.8 L1546.5,224.0 L1547.5,224.3 L1548.5,224.5 L1549.5,224.7 L1550.5,225.0 L1551.5,225.2 L1552.5,225.5 L1553.5,225.7 L1554.5,226.0 L1555.5,226.2 L1556.5,226.5 L1557.5,226.7 L1558.5,226.9 L1559.5,227.2 L1560.5,227.4 L1561.5,227.7 L1562.5,227.9 L1563.5,228.2 L1564.5,228.5 L1565.5,228.7 L1566.5,229.0 L1567.5,229.2 L1568.5,229.5 L1569.5,229.7 L1570.5,230.0 L1571.5,230.2 L1572.5,230.5 L1573.5,230.8 L1574.5,231.0 L1575.5,231.3 L1576.5,231.6 L1577.5,231.8 L1578.5,232.1 L1579.5,232.3 L1580.5,232.6 L1581.5,232.9 L1582.5,233.1 L1583.5,233.4 L1584.5,233.7 L1585.5,234.0 L1586.5,234.2 L1587.5,234.5 L1588.5,234.8 L1589.5,235.0 L1590.5,235.3 L1591.5,235.6 L1592.5,235.9 L1593.5,236.2 L1594.5,236.4 L1595.5,236.7 L1596.5,237.0 L1597.5,237.3 L1598.6,237.6 L1599.6,237.8 L1600.6,238.1 L1601.6,238.4 L1602.6,238.7 L1603.6,239.0 L1604.6,239.3 L1605.6,239.6 L1606.6,239.9 L1607.6,240.2 L1608.6,240.5 L1609.6,240.7 L1610.6,241.0 L1611.6,241.3 L1612.6,241.6 L1613.6,241.9 L1614.6,242.2 L1615.6,242.5 L1616.6,242.8 L1617.6,243.1 L1618.6,243.5 L1619.6,243.8 L1620.6,244.1 L1621.6,244.4 L1622.6,244.7 L1623.6,245.0 L1624.6,245.3 L1625.6,245.6 L1626.6,245.9 L1627.6,246.3 L1628.6,246.6 L1629.6,246.9 L1630.6,247.2 L1631.6,247.5 L1632.6,247.9 L1633.6,248.2 L1634.6,248.5 L1635.6,248.8 L1636.7,249.2 L1637.7,249.5 L1638.7,249.8 L1639.7,250.1 L1640.7,250.5 L1641.7,250.8 L1642.7,251.1 L1643.7,251.5 L1644.7,251.8 L1645.7,252.2 L1646.7,252.5 L1647.7,252.9 L1648.7,253.2 L1649.7,253.5 L1650.7,253.9 L1651.7,254.2 L1652.7,254.6 L1653.7,254.9 L1654.7,255.3 L1655.7,255.7 L1656.7,256.0 L1657.7,256.4 L1658.7,256.7 L1659.7,257.1 L1660.7,257.5 L1661.7,257.8 L1662.8,258.2 L1663.8,258.6 L1664.8,258.9 L1665.8,259.3 L1666.8,259.7 L1667.8,260.1 L1668.8,260.4 L1669.8,260.8 L1670.8,261.2 L1671.8,261.6 L1672.8,262.0 L1673.8,262.3 L1674.8,262.7 L1675.8,263.1 L1676.8,263.5 L1677.8,263.9 L1678.8,264.3 L1679.8,264.7 L1680.8,265.1 L1681.8,265.5 L1682.9,265.9 L1683.9,266.3 L1684.9,266.7 L1685.9,267.2 L1686.9,267.6 L1687.9,268.0 L1688.9,268.4 L1689.9,268.8 L1690.9,269.2 L1691.9,269.7 L1692.9,270.1 L1693.9,270.5 L1694.9,271.0 L1695.9,271.4 L1696.9,271.8 L1697.9,272.3 L1698.9,272.7 L1700.0,273.2 L1701.0,273.6 L1702.0,274.1 L1703.0,274.5 L1704.0,275.0 L1705.0,275.4 L1706.0,275.9 L1707.0,276.3 L1708.0,276.8 L1709.0,277.3 L1710.0,277.8 L1711.0,278.2 L1712.0,278.7 L1713.0,279.2 L1714.1,279.7 L1715.1,280.2 L1716.1,280.6 L1717.1,281.1 L1718.1,281.6 L1719.1,282.1 L1720.1,282.6 L1721.1,283.1 L1722.1,283.6 L1723.1,284.2 L1724.1,284.7 L1725.1,285.2 L1726.1,285.7 L1727.2,286.2 L1728.2,286.8 L1729.2,287.3 L1730.2,287.8 L1731.2,288.4 L1732.2,288.9 L1733.2,289.5 L1734.2,290.0 L1735.2,290.6 L1736.2,291.1 L1737.2,291.7 L1738.3,292.2 L1739.3,292.8 L1740.3,293.4 L1741.3,294.0 L1742.3,294.5 L1743.3,295.1 L1744.3,295.7 L1745.3,296.3 L1746.3,296.9 L1747.3,297.5 L1748.3,298.1 L1749.4,298.7 L1750.4,299.4 L1751.4,300.0 L1752.4,300.6 L1753.4,301.3 L1754.4,301.9 L1755.4,302.5 L1756.4,303.2 L1757.4,303.8 L1758.5,304.5 L1759.5,305.2 L1760.5,305.8 L1761.5,306.5 L1762.5,307.2 L1763.5,307.9 L1764.5,308.6 L1765.5,309.3 L1766.5,310.0 L1767.6,310.7 L1768.6,311.4 L1769.6,312.1 L1770.6,312.9 L1771.6,313.6 L1772.6,314.3 L1773.6,315.1 L1774.6,315.8 L1775.6,316.6 L1776.7,317.4 L1777.7,318.2 L1778.7,318.9 L1779.7,319.7 L1780.7,320.5 L1781.7,321.4 L1782.7,322.2 L1783.7,323.0 L1784.8,323.8 L1785.8,324.7 L1786.8,325.5 L1787.8,326.4 L1788.8,327.3 L1789.8,328.1 L1790.8,329.0 L1791.8,329.9 L1792.9,330.8 L1793.9,331.7 L1794.9,332.7 L1795.9,333.6 L1796.9,334.5 L1797.9,335.5 L1798.9,336.5 L1800.0,337.5 L1801.0,338.4 L1802.0,339.4 L1803.0,340.5 L1804.0,341.5 L1805.0,342.5 L1806.0,343.6 L1807.0,344.7 L1808.1,345.7 L1809.1,346.8 L1810.1,347.9 L1811.1,349.1 L1812.1,350.2 L1813.1,351.3 L1814.1,352.5 L1815.2,353.7 L1816.2,354.9 L1817.2,356.1 L1818.2,357.3 L1819.2,358.6 L1820.2,359.8 L1821.2,361.1 L1822.2,362.4 L1823.3,363.7 L1824.3,365.1 L1825.3,366.4 L1826.3,367.8 L1827.3,369.2 L1828.3,370.7 L1829.3,372.1 L1830.3,373.6 L1831.4,375.1 L1832.4,376.6 L1833.4,378.1 L1834.4,379.7 L1835.4,381.3 L1836.4,382.9 L1837.4,384.5 L1838.4,386.2 L1839.4,387.9 L1840.5,389.7 L1841.5,391.4 L1842.5,393.2 L1843.5,395.0 L1844.5,396.9 L1845.5,398.8 L1846.5,400.7 L1847.5,402.7 L1848.5,404.7 L1849.5,406.7 L1850.5,408.8 L1851.5,410.9 L1852.5,413.1 L1853.5,415.3 L1854.5,417.5 L1855.5,419.8 L1856.5,422.1 L1857.5,424.5 L1858.5,426.9 L1859.5,429.4 L1860.5,431.9 L1861.5,434.5 L1862.5,437.1 L1863.5,439.8 L1864.5,442.5 L1865.5,445.3 L1866.5,448.2 L1867.4,451.1 L1868.4,454.0 L1869.4,457.1 L1870.4,460.1 L1871.4,463.3 L1872.4,466.5 L1873.3,469.7 L1874.3,473.1 L1875.3,476.4 L1876.3,479.9 L1877.2,483.4 L1878.2,487.0 L1879.2,490.6 L1880.1,494.3 L1881.1,498.1 L1882.1,501.9 L1883.0,505.9 L1884.0,509.8 L1885.0,513.9 L1885.9,518.0 L1886.9,522.1 L1887.8,526.3 L1888.8,530.6 L1889.8,535.0 L1890.7,539.4 L1891.7,543.8 L1892.6,548.4 L1893.6,552.9 L1894.5,557.6 L1895.5,562.2 L1896.5,567.0 L1897.4,571.8 L1898.4,576.6 L1899.3,581.5 L1900.3,586.4 L1901.3,591.4 L1902.2,596.4 L1903.2,601.5 L1904.1,606.6 L1905.1,611.7 L1906.1,616.9 L1907.0,622.1 L1908.0,627.4 L1909.0,632.6 L1909.9,638.0 L1910.9,643.3 L1911.9,648.7 L1912.8,654.1 L1913.8,659.5 L1914.8,664.9 L1915.8,670.4 L1916.7,675.9 L1917.7,681.4 L1918.7,686.9 L1919.7,692.5 L1920.6,698.0 L1921.6,703.6 L1922.6,709.2 L1923.6,714.8 L1924.6,720.4 L1925.5,726.1 L1926.5,731.7 L1927.5,737.4 L1928.5,743.1 L1929.5,748.7 L1930.5,754.4 L1931.4,760.1 L1932.4,765.8 L1933.4,771.6 L1934.4,777.3 L1935.4,783.0 L1936.4,788.8 L1937.4,794.5 L1938.4,800.3 L1939.4,806.0 L1940.4,811.8 L1941.4,817.5 L1942.3,823.3 L1943.3,829.1 L1944.3,834.9 L1945.3,840.7 L1946.3,846.4 L1947.3,852.2 L1948.3,858.0 L1949.3,863.8 L1950.3,869.6 L1951.3,875.4 L1952.3,881.2 L1953.3,887.0 L1954.3,892.8 L1955.4,898.6 L1956.4,904.5 L1957.4,910.3 L1958.4,916.1 L1959.4,921.9 L1960.4,927.7 L1961.4,933.5 L1962.4,939.4 L1963.4,945.2 L1964.4,951.0 L1965.4,956.8 L1966.4,962.6 L1967.4,968.5 L1968.4,974.3 L1969.5,980.1 L1970.5,986.0 L1971.5,991.8 L1972.5,997.6 L1973.5,1003.4 L1974.5,1009.3 L1975.5,1015.1 L1976.5,1020.9 L1977.5,1026.8 L1978.6,1032.6 L1979.6,1038.4 L1980.6,1044.2 L1981.6,1050.1 L1982.6,1055.9 L1983.6,1061.7 L1984.6,1067.6 L1985.6,1073.4 L1986.7,1079.2 L1987.7,1085.1 L1988.7,1090.9 L1989.7,1096.7 L1990.7,1102.6 L1991.7,1108.4 L1992.7,1114.2 L1993.8,1120.1 L1994.8,1125.9 L1995.8,1131.8 L1996.8,1137.6 L1997.8,1143.4 L1998.8,1149.3 L1999.8,1155.1 L2000.8,1160.9 L2001.9,1166.8 L2002.9,1172.6 L2003.9,1178.4 L2004.9,1184.3 L2005.9,1190.1 L2006.9,1195.9 L2007.9,1201.8 L2008.9,1207.6 L2010.0,1213.5 L2011.0,1219.3 L2012.0,1225.1 L2013.0,1231.0 L2014.0,1236.8 L2015.0,1242.6 L2016.0,1248.5 L2017.0,1254.3 L2018.0,1260.2 L2019.0,1266.0 L2020.0,1271.8 L2021.0,1277.7 L2022.0,1283.5 L2023.0,1289.3 L2024.0,1295.2 L2025.0,1301.0 L2026.0,1306.9 L2027.0,1312.7 L2028.0,1318.5 L2029.0,1324.4"/>
<path class="cv" stroke="#ff0000" d="M1283.4,188.5 L1284.4,188.6 L1285.4,188.7 L1286.4,188.9 L1287.4,189.0 L1288.4,189.1 L1289.4,189.2 L1290.4,189.4 L1291.4,189.5 L1292.4,189.6 L1293.4,189.7 L1294.4,189.9 L1295.4,190.0 L1296.4,190.1 L1297.4,190.3 L1298.4,190.4 L1299.4,190.5 L1300.4,190.6 L1301.4,190.8 L1302.4,190.9 L1303.4,191.0 L1304.4,191.2 L1305.4,191.3 L1306.4,191.4 L1307.4,191.6 L1308.5,191.7 L1309.5,191.8 L1310.5,192.0 L1311.5,192.1 L1312.5,192.2 L1313.5,192.4 L1314.5,192.5 L1315.5,192.6 L1316.5,192.8 L1317.5,192.9 L1318.5,193.0 L1319.5,193.2 L1320.5,193.3 L1321.5,193.4 L1322.5,193.6 L1323.5,193.7 L1324.5,193.8 L1325.5,194.0 L1326.5,194.1 L1327.5,194.3 L1328.5,194.4 L1329.5,194.5 L1330.5,194.7 L1331.5,194.8 L1332.5,195.0 L1333.5,195.1 L1334.5,195.2 L1335.5,195.4 L1336.5,195.5 L1337.5,195.7 L1338.5,195.8 L1339.5,195.9 L1340.5,196.1 L1341.5,196.2 L1342.5,196.4 L1343.5,196.5 L1344.5,196.7 L1345.5,196.8 L1346.5,196.9 L1347.5,197.1 L1348.5,197.2 L1349.5,197.4 L1350.5,197.5 L1351.5,197.7 L1352.5,197.8 L1353.5,198.0 L1354.5,198.1 L1355.5,198.3 L1356.5,198.4 L1357.5,198.5 L1358.5,198.7 L1359.5,198.8 L1360.5,199.0 L1361.5,199.1 L1362.5,199.3 L1363.5,199.4 L1364.5,199.6 L1365.5,199.7 L1366.5,199.9 L1367.5,200.0 L1368.5,200.2 L1369.5,200.3 L1370.5,200.5 L1371.5,200.6 L1372.5,200.8 L1373.5,200.9 L1374.5,201.1 L1375.5,201.3 L1376.5,201.4 L1377.5,201.6 L1378.5,201.7 L1379.5,201.9 L1380.5,202.0 L1381.5,202.2 L1382.5,202.3 L1383.5,202.5 L1384.5,202.7 L1385.5,202.8 L1386.5,203.0 L1387.5,203.1 L1388.5,203.3 L1389.5,203.4 L1390.5,203.6 L1391.5,203.8 L1392.5,203.9 L1393.5,204.1 L1394.5,204.2 L1395.5,204.4 L1396.5,204.6 L1397.5,204.7 L1398.5,204.9 L1399.5,205.0 L1400.5,205.2 L1401.5,205.4 L1402.5,205.5 L1403.5,205.7 L1404.5,205.9 L1405.5,206.0 L1406.5,206.2 L1407.5,206.4 L1408.5,206.5 L1409.5,206.7 L1410.5,206.9 L1411.5,207.0 L1412.5,207.2 L1413.5,207.4 L1414.5,207.5 L1415.5,207.7 L1416.5,207.9 L1417.5,208.0 L1418.5,208.2 L1419.5,208.4 L1420.5,208.5 L1421.5,208.7 L1422.5,208.9 L1423.5,209.0 L1424.5,209.2 L1425.5,209.4 L1426.5,209.6 L1427.5,209.7 L1428.5,209.9 L1429.5,210.1 L1430.5,210.3 L1431.5,210.4 L1432.5,210.6 L1433.5,210.8 L1434.5,211.0 L1435.5,211.1 L1436.5,211.3 L1437.5,211.5 L1438.5,211.7 L1439.5,211.8 L1440.5,212.0 L1441.5,212.2 L1442.5,212.4 L1443.5,212.6 L1444.5,212.7 L1445.5,212.9 L1446.5,213.1 L1447.5,213.3 L1448.5,213.5 L1449.5,213.6 L1450.5,213.8 L1451.5,214.0 L1452.5,214.2 L1453.5,214.4 L1454.5,214.6 L1455.5,214.7 L1456.5,214.9 L1457.5,215.1 L1458.5,215.3 L1459.5,215.5 L1460.5,215.7 L1461.5,215.9 L1462.5,216.1 L1463.5,216.2 L1464.5,216.4 L1465.5,216.6 L1466.5,216.8 L1467.5,217.0 L1468.5,217.2 L1469.5,217.4 L1470.5,217.6 L1471.5,217.8 L1472.5,218.0 L1473.5,218.1 L1474.5,218.3 L1475.5,218.5 L1476.5,218.7 L1477.5,218.9 L1478.5,219.1 L1479.5,219.3 L1480.5,219.5 L1481.5,219.7 L1482.5,219.9 L1483.5,220.1 L1484.5,220.3 L1485.5,220.5 L1486.5,220.7 L1487.5,220.9 L1488.5,221.1 L1489.5,221.3 L1490.5,221.5 L1491.5,221.7 L1492.5,221.9 L1493.5,222.1 L1494.5,222.3 L1495.5,222.5 L1496.5,222.7 L1497.5,222.9 L1498.5,223.1 L1499.5,223.3 L1500.5,223.6 L1501.5,223.8 L1502.5,224.0 L1503.5,224.2 L1504.5,224.4 L1505.5,224.6 L1506.5,224.8 L1507.5,225.0 L1508.5,225.2 L1509.5,225.4 L1510.5,225.7 L1511.5,225.9 L1512.5,226.1 L1513.5,226.3 L1514.5,226.5 L1515.5,226.7 L1516.5,226.9 L1517.5,227.2 L1518.5,227.4 L1519.5,227.6 L1520.5,227.8 L1521.5,228.0 L1522.5,228.2 L1523.5,228.5 L1524.5,228.7 L1525.5,228.9 L1526.5,229.1 L1527.5,229.4 L1528.5,229.6 L1529.5,229.8 L1530.5,230.0 L1531.5,230.2 L1532.5,230.5 L1533.5,230.7 L1534.5,230.9 L1535.5,231.2 L1536.5,231.4 L1537.5,231.6 L1538.5,231.8 L1539.5,232.1 L1540.5,232.3 L1541.5,232.5 L1542.5,232.8 L1543.5,233.0 L1544.5,233.2 L1545.5,233.5 L1546.5,233.7 L1547.5,233.9 L1548.5,234.2 L1549.5,234.4 L1550.5,234.6 L1551.5,234.9 L1552.5,235.1 L1553.5,235.4 L1554.5,235.6 L1555.5,235.8 L1556.5,236.1 L1557.5,236.3 L1558.5,236.6 L1559.5,236.8 L1560.5,237.1 L1561.5,237.3 L1562.5,237.6 L1563.5,237.8 L1564.5,238.0 L1565.5,238.3 L1566.5,238.5 L1567.5,238.8 L1568.5,239.0 L1569.5,239.3 L1570.5,239.5 L1571.5,239.8 L1572.5,240.1 L1573.5,240.3 L1574.5,240.6 L1575.5,240.8 L1576.5,241.1 L1577.5,241.3 L1578.5,241.6 L1579.5,241.9 L1580.5,242.1 L1581.5,242.4 L1582.5,242.6 L1583.5,242.9 L1584.5,243.2 L1585.5,243.4 L1586.5,243.7 L1587.5,244.0 L1588.5,244.2 L1589.5,244.5 L1590.5,244.8 L1591.5,245.0 L1592.5,245.3 L1593.5,245.6 L1594.5,245.9 L1595.5,246.1 L1596.5,246.4 L1597.5,246.7 L1598.5,247.0 L1599.5,247.2 L1600.5,247.5 L1601.5,247.8 L1602.5,248.1 L1603.5,248.3 L1604.5,248.6 L1605.5,248.9 L1606.5,249.2 L1607.5,249.5 L1608.5,249.8 L1609.5,250.1 L1610.5,250.3 L1611.5,250.6 L1612.5,250.9 L1613.5,251.2 L1614.5,251.5 L1615.5,251.8 L1616.5,252.1 L1617.5,252.4 L1618.5,252.7 L1619.5,253.0 L1620.5,253.3 L1621.5,253.6 L1622.5,253.9 L1623.5,254.2 L1624.5,254.5 L1625.5,254.8 L1626.5,255.1 L1627.5,255.4 L1628.5,255.7 L1629.6,256.0 L1630.6,256.3 L1631.6,256.6 L1632.6,257.0 L1633.6,257.3 L1634.6,257.6 L1635.6,257.9 L1636.6,258.2 L1637.6,258.5 L1638.6,258.9 L1639.6,259.2 L1640.6,259.5 L1641.6,259.8 L1642.6,260.1 L1643.6,260.5 L1644.6,260.8 L1645.6,261.1 L1646.6,261.5 L1647.6,261.8 L1648.6,262.1 L1649.6,262.5 L1650.6,262.8 L1651.6,263.1 L1652.6,263.5 L1653.6,263.8 L1654.6,264.2 L1655.6,264.5 L1656.6,264.8 L1657.6,265.2 L1658.6,265.5 L1659.6,265.9 L1660.6,266.2 L1661.6,266.6 L1662.6,266.9 L1663.6,267.3 L1664.7,267.7 L1665.7,268.0 L1666.7,268.4 L1667.7,268.7 L1668.7,269.1 L1669.7,269.5 L1670.7,269.8 L1671.7,270.2 L1672.7,270.6 L1673.7,270.9 L1674.7,271.3 L1675.7,271.7 L1676.7,272.1 L1677.7,272.4 L1678.7,272.8 L1679.7,273.2 L1680.7,273.6 L1681.7,274.0 L1682.7,274.4 L1683.7,274.8 L1684.7,275.1 L1685.7,275.5 L1686.7,275.9 L1687.8,276.3 L1688.8,276.7 L1689.8,277.1 L1690.8,277.5 L1691.8,277.9 L1692.8,278.3 L1693.8,278.8 L1694.8,279.2 L1695.8,279.6 L1696.8,280.0 L1697.8,280.4 L1698.8,280.8 L1699.8,281.3 L1700.8,281.7 L1701.8,282.1 L1702.8,282.5 L1703.8,283.0 L1704.8,283.4 L1705.9,283.9 L1706.9,284.3 L1707.9,284.7 L1708.9,285.2 L1709.9,285.6 L1710.9,286.1 L1711.9,286.5 L1712.9,287.0 L1713.9,287.4 L1714.9,287.9 L1715.9,288.4 L1716.9,288.8 L1717.9,289.3 L1718.9,289.8 L1719.9,290.2 L1721.0,290.7 L1722.0,291.2 L1723.0,291.7 L1724.0,292.2 L1725.0,292.6 L1726.0,293.1 L1727.0,293.6 L1728.0,294.1 L1729.0,294.6 L1730.0,295.1 L1731.0,295.6 L1732.0,296.1 L1733.1,296.7 L1734.1,297.2 L1735.1,297.7 L1736.1,298.2 L1737.1,298.7 L1738.1,299.3 L1739.1,299.8 L1740.1,300.3 L1741.1,300.9 L1742.1,301.4 L1743.1,302.0 L1744.2,302.5 L1745.2,303.1 L1746.2,303.6 L1747.2,304.2 L1748.2,304.8 L1749.2,305.4 L1750.2,305.9 L1751.2,306.5 L1752.2,307.1 L1753.2,307.7 L1754.3,308.3 L1755.3,308.9 L1756.3,309.5 L1757.3,310.1 L1758.3,310.7 L1759.3,311.3 L1760.3,311.9 L1761.3,312.5 L1762.3,313.2 L1763.4,313.8 L1764.4,314.5 L1765.4,315.1 L1766.4,315.7 L1767.4,316.4 L1768.4,317.1 L1769.4,317.7 L1770.4,318.4 L1771.5,319.1 L1772.5,319.8 L1773.5,320.4 L1774.5,321.1 L1775.5,321.8 L1776.5,322.5 L1777.5,323.3 L1778.5,324.0 L1779.6,324.7 L1780.6,325.4 L1781.6,326.2 L1782.6,326.9 L1783.6,327.7 L1784.6,328.4 L1785.6,329.2 L1786.7,330.0 L1787.7,330.7 L1788.7,331.5 L1789.7,332.3 L1790.7,333.1 L1791.7,333.9 L1792.7,334.8 L1793.8,335.6 L1794.8,336.4 L1795.8,337.3 L1796.8,338.1 L1797.8,339.0 L1798.8,339.8 L1799.8,340.7 L1800.9,341.6 L1801.9,342.5 L1802.9,343.4 L1803.9,344.3 L1804.9,345.3 L1805.9,346.2 L1807.0,347.1 L1808.0,348.1 L1809.0,349.1 L1810.0,350.0 L1811.0,351.0 L1812.0,352.0 L1813.0,353.0 L1814.1,354.1 L1815.1,355.1 L1816.1,356.2 L1817.1,357.2 L1818.1,358.3 L1819.1,359.4 L1820.2,360.5 L1821.2,361.6 L1822.2,362.7 L1823.2,363.9 L1824.2,365.0 L1825.2,366.2 L1826.2,367.4 L1827.3,368.6 L1828.3,369.8 L1829.3,371.0 L1830.3,372.3 L1831.3,373.6 L1832.3,374.8 L1833.3,376.1 L1834.3,377.5 L1835.4,378.8 L1836.4,380.2 L1837.4,381.5 L1838.4,382.9 L1839.4,384.4 L1840.4,385.8 L1841.4,387.3 L1842.4,388.7 L1843.4,390.2 L1844.4,391.8 L1845.5,393.3 L1846.5,394.9 L1847.5,396.5 L1848.5,398.1 L1849.5,399.7 L1850.5,401.4 L1851.5,403.1 L1852.5,404.8 L1853.5,406.6 L1854.5,408.4 L1855.5,410.2 L1856.5,412.0 L1857.5,413.9 L1858.5,415.8 L1859.5,417.7 L1860.5,419.7 L1861.5,421.7 L1862.5,423.7 L1863.5,425.7 L1864.5,427.8 L1865.5,430.0 L1866.5,432.1 L1867.4,434.3 L1868.4,436.5 L1869.4,438.8 L1870.4,441.1 L1871.4,443.5 L1872.4,445.9 L1873.4,448.3 L1874.4,450.8 L1875.3,453.3 L1876.3,455.8 L1877.3,458.4 L1878.3,461.0 L1879.3,463.7 L1880.2,466.4 L1881.2,469.2 L1882.2,472.0 L1883.2,474.9 L1884.1,477.8 L1885.1,480.7 L1886.1,483.7 L1887.1,486.7 L1888.0,489.8 L1889.0,492.9 L1890.0,496.1 L1890.9,499.3 L1891.9,502.5 L1892.9,505.8 L1893.8,509.2 L1894.8,512.6 L1895.8,516.0 L1896.7,519.5 L1897.7,523.0 L1898.6,526.6 L1899.6,530.2 L1900.6,533.9 L1901.5,537.6 L1902.5,541.3 L1903.4,545.1 L1904.4,548.9 L1905.3,552.8 L1906.3,556.7 L1907.3,560.6 L1908.2,564.6 L1909.2,568.6 L1910.1,572.6 L1911.1,576.7 L1912.1,580.8 L1913.0,585.0 L1914.0,589.1 L1914.9,593.4 L1915.9,597.6 L1916.9,601.9 L1917.8,606.2 L1918.8,610.5 L1919.7,614.8 L1920.7,619.2 L1921.7,623.6 L1922.6,628.0 L1923.6,632.5 L1924.6,636.9 L1925.5,641.4 L1926.5,645.9 L1927.5,650.5 L1928.4,655.0 L1929.4,659.6 L1930.4,664.2 L1931.3,668.8 L1932.3,673.4 L1933.3,678.0 L1934.3,682.6 L1935.2,687.3 L1936.2,692.0 L1937.2,696.7 L1938.2,701.4 L1939.1,706.1 L1940.1,710.8 L1941.1,715.5 L1942.1,720.3 L1943.1,725.0 L1944.0,729.8 L1945.0,734.5 L1946.0,739.3 L1947.0,744.1 L1948.0,748.9 L1949.0,753.7 L1950.0,758.5 L1950.9,763.3 L1951.9,768.1 L1952.9,772.9 L1953.9,777.7 L1954.9,782.6 L1955.9,787.4 L1956.9,792.3 L1957.9,797.1 L1958.9,802.0 L1959.9,806.8 L1960.9,811.7 L1961.9,816.5 L1962.9,821.4 L1963.9,826.3 L1964.9,831.1 L1965.9,836.0 L1966.9,840.9 L1967.9,845.7 L1968.9,850.6 L1969.9,855.5 L1970.9,860.4 L1971.9,865.3 L1972.9,870.2 L1973.9,875.1 L1974.9,880.0 L1975.9,884.8 L1976.9,889.7 L1977.9,894.6 L1978.9,899.5 L1980.0,904.4 L1981.0,909.3 L1982.0,914.2 L1983.0,919.1 L1984.0,924.0 L1985.0,929.0 L1986.0,933.9 L1987.0,938.8 L1988.1,943.7 L1989.1,948.6 L1990.1,953.5 L1991.1,958.4 L1992.1,963.3 L1993.1,968.2 L1994.2,973.1 L1995.2,978.0 L1996.2,983.0 L1997.2,987.9 L1998.2,992.8 L1999.2,997.7 L2000.3,1002.6 L2001.3,1007.5 L2002.3,1012.4 L2003.3,1017.4 L2004.3,1022.3 L2005.4,1027.2 L2006.4,1032.1 L2007.4,1037.0 L2008.4,1041.9 L2009.4,1046.9 L2010.4,1051.8 L2011.5,1056.7 L2012.5,1061.6 L2013.5,1066.5 L2014.5,1071.5 L2015.5,1076.4 L2016.6,1081.3 L2017.6,1086.2 L2018.6,1091.1 L2019.6,1096.1 L2020.6,1101.0 L2021.6,1105.9 L2022.7,1110.8 L2023.7,1115.7 L2024.7,1120.7 L2025.7,1125.6 L2026.7,1130.5 L2027.7,1135.4 L2028.8,1140.3 L2029.8,1145.3 L2030.8,1150.2 L2031.8,1155.1 L2032.8,1160.0 L2033.8,1165.0 L2034.8,1169.9 L2035.9,1174.8 L2036.9,1179.7 L2037.9,1184.6 L2038.9,1189.6 L2039.9,1194.5 L2040.9,1199.4 L2041.9,1204.3 L2042.9,1209.3 L2043.9,1214.2 L2044.9,1219.1 L2045.9,1224.0 L2046.9,1229.0 L2048.0,1233.9 L2049.0,1238.8 L2050.0,1243.7 L2051.0,1248.7 L2052.0,1253.6 L2053.0,1258.5 L2054.0,1263.4 L2055.0,1268.4 L2056.0,1273.3 L2057.0,1278.2 L2058.0,1283.1 L2059.0,1288.1 L2060.0,1293.0 L2061.0,1297.9 L2062.0,1302.9 L2063.0,1307.8 L2064.0,1312.7 L2065.0,1317.6 L2066.0,1322.6 L2067.0,1327.5"/>
<path class="cv" stroke="#000000" d="M1283.5,198.1 L1284.5,198.3 L1285.5,198.4 L1286.5,198.5 L1287.5,198.7 L1288.5,198.8 L1289.5,198.9 L1290.5,199.0 L1291.5,199.2 L1292.5,199.3 L1293.5,199.4 L1294.5,199.5 L1295.5,199.7 L1296.5,199.8 L1297.5,199.9 L1298.5,200.0 L1299.5,200.2 L1300.5,200.3 L1301.5,200.4 L1302.6,200.6 L1303.6,200.7 L1304.6,200.8 L1305.6,201.0 L1306.6,201.1 L1307.6,201.2 L1308.6,201.3 L1309.6,201.5 L1310.6,201.6 L1311.6,201.7 L1312.6,201.9 L1313.6,202.0 L1314.6,202.1 L1315.6,202.3 L1316.6,202.4 L1317.6,202.5 L1318.6,202.7 L1319.6,202.8 L1320.6,202.9 L1321.6,203.1 L1322.6,203.2 L1323.6,203.3 L1324.6,203.5 L1325.6,203.6 L1326.6,203.7 L1327.6,203.9 L1328.6,204.0 L1329.6,204.1 L1330.6,204.3 L1331.6,204.4 L1332.6,204.6 L1333.6,204.7 L1334.6,204.8 L1335.6,205.0 L1336.6,205.1 L1337.6,205.2 L1338.6,205.4 L1339.6,205.5 L1340.6,205.7 L1341.6,205.8 L1342.6,205.9 L1343.6,206.1 L1344.6,206.2 L1345.6,206.4 L1346.6,206.5 L1347.6,206.6 L1348.6,206.8 L1349.6,206.9 L1350.6,207.1 L1351.6,207.2 L1352.6,207.4 L1353.6,207.5 L1354.6,207.6 L1355.6,207.8 L1356.6,207.9 L1357.6,208.1 L1358.6,208.2 L1359.6,208.4 L1360.6,208.5 L1361.6,208.7 L1362.6,208.8 L1363.6,209.0 L1364.6,209.1 L1365.6,209.2 L1366.6,209.4 L1367.6,209.5 L1368.6,209.7 L1369.6,209.8 L1370.6,210.0 L1371.6,210.1 L1372.6,210.3 L1373.6,210.4 L1374.6,210.6 L1375.6,210.7 L1376.6,210.9 L1377.6,211.0 L1378.6,211.2 L1379.6,211.3 L1380.6,211.5 L1381.6,211.7 L1382.6,211.8 L1383.6,212.0 L1384.6,212.1 L1385.6,212.3 L1386.6,212.4 L1387.6,212.6 L1388.6,212.7 L1389.6,212.9 L1390.7,213.0 L1391.7,213.2 L1392.7,213.4 L1393.7,213.5 L1394.7,213.7 L1395.7,213.8 L1396.7,214.0 L1397.7,214.1 L1398.7,214.3 L1399.7,214.5 L1400.7,214.6 L1401.7,214.8 L1402.7,214.9 L1403.7,215.1 L1404.7,215.3 L1405.7,215.4 L1406.7,215.6 L1407.7,215.7 L1408.7,215.9 L1409.7,216.1 L1410.7,216.2 L1411.7,216.4 L1412.7,216.6 L1413.7,216.7 L1414.7,216.9 L1415.7,217.0 L1416.7,217.2 L1417.7,217.4 L1418.7,217.5 L1419.7,217.7 L1420.7,217.9 L1421.7,218.0 L1422.7,218.2 L1423.7,218.4 L1424.7,218.6 L1425.7,218.7 L1426.7,218.9 L1427.7,219.1 L1428.7,219.2 L1429.7,219.4 L1430.7,219.6 L1431.7,219.7 L1432.7,219.9 L1433.7,220.1 L1434.7,220.3 L1435.7,220.4 L1436.7,220.6 L1437.7,220.8 L1438.7,220.9 L1439.7,221.1 L1440.7,221.3 L1441.7,221.5 L1442.7,221.6 L1443.7,221.8 L1444.7,222.0 L1445.7,222.2 L1446.7,222.4 L1447.7,222.5 L1448.7,222.7 L1449.7,222.9 L1450.7,223.1 L1451.7,223.2 L1452.7,223.4 L1453.7,223.6 L1454.7,223.8 L1455.7,224.0 L1456.7,224.2 L1457.7,224.3 L1458.7,224.5 L1459.7,224.7 L1460.7,224.9 L1461.7,225.1 L1462.7,225.3 L1463.7,225.4 L1464.7,225.6 L1465.7,225.8 L1466.7,226.0 L1467.7,226.2 L1468.7,226.4 L1469.7,226.6 L1470.7,226.7 L1471.7,226.9 L1472.7,227.1 L1473.7,227.3 L1474.7,227.5 L1475.7,227.7 L1476.7,227.9 L1477.7,228.1 L1478.7,228.3 L1479.7,228.5 L1480.7,228.6 L1481.7,228.8 L1482.7,229.0 L1483.7,229.2 L1484.7,229.4 L1485.7,229.6 L1486.7,229.8 L1487.7,230.0 L1488.7,230.2 L1489.7,230.4 L1490.7,230.6 L1491.7,230.8 L1492.7,231.0 L1493.7,231.2 L1494.7,231.4 L1495.7,231.6 L1496.7,231.8 L1497.7,232.0 L1498.7,232.2 L1499.8,232.4 L1500.8,232.6 L1501.8,232.8 L1502.8,233.0 L1503.8,233.2 L1504.8,233.4 L1505.8,233.6 L1506.8,233.8 L1507.8,234.0 L1508.8,234.3 L1509.8,234.5 L1510.8,234.7 L1511.8,234.9 L1512.8,235.1 L1513.8,235.3 L1514.8,235.5 L1515.8,235.7 L1516.8,235.9 L1517.8,236.1 L1518.8,236.4 L1519.8,236.6 L1520.8,236.8 L1521.8,237.0 L1522.8,237.2 L1523.8,237.4 L1524.8,237.6 L1525.8,237.9 L1526.8,238.1 L1527.8,238.3 L1528.8,238.5 L1529.8,238.7 L1530.8,239.0 L1531.8,239.2 L1532.8,239.4 L1533.8,239.6 L1534.8,239.8 L1535.8,240.1 L1536.8,240.3 L1537.8,240.5 L1538.8,240.7 L1539.8,241.0 L1540.8,241.2 L1541.8,241.4 L1542.8,241.6 L1543.8,241.9 L1544.8,242.1 L1545.8,242.3 L1546.8,242.6 L1547.8,242.8 L1548.8,243.0 L1549.8,243.3 L1550.8,243.5 L1551.8,243.7 L1552.8,244.0 L1553.8,244.2 L1554.8,244.4 L1555.8,244.7 L1556.8,244.9 L1557.8,245.1 L1558.8,245.4 L1559.8,245.6 L1560.8,245.9 L1561.8,246.1 L1562.8,246.3 L1563.8,246.6 L1564.8,246.8 L1565.8,247.1 L1566.8,247.3 L1567.8,247.6 L1568.8,247.8 L1569.8,248.1 L1570.8,248.3 L1571.8,248.5 L1572.8,248.8 L1573.8,249.0 L1574.8,249.3 L1575.8,249.5 L1576.8,249.8 L1577.8,250.1 L1578.8,250.3 L1579.8,250.6 L1580.8,250.8 L1581.8,251.1 L1582.8,251.3 L1583.8,251.6 L1584.8,251.8 L1585.8,252.1 L1586.8,252.4 L1587.8,252.6 L1588.8,252.9 L1589.8,253.1 L1590.8,253.4 L1591.8,253.7 L1592.8,253.9 L1593.8,254.2 L1594.8,254.5 L1595.8,254.7 L1596.8,255.0 L1597.8,255.3 L1598.8,255.6 L1599.8,255.8 L1600.8,256.1 L1601.8,256.4 L1602.8,256.6 L1603.8,256.9 L1604.8,257.2 L1605.8,257.5 L1606.8,257.7 L1607.8,258.0 L1608.8,258.3 L1609.8,258.6 L1610.8,258.9 L1611.8,259.1 L1612.8,259.4 L1613.8,259.7 L1614.8,260.0 L1615.8,260.3 L1616.8,260.6 L1617.8,260.9 L1618.8,261.2 L1619.8,261.4 L1620.8,261.7 L1621.8,262.0 L1622.8,262.3 L1623.8,262.6 L1624.8,262.9 L1625.8,263.2 L1626.8,263.5 L1627.8,263.8 L1628.8,264.1 L1629.8,264.4 L1630.8,264.7 L1631.8,265.0 L1632.8,265.3 L1633.8,265.6 L1634.8,265.9 L1635.8,266.2 L1636.8,266.5 L1637.8,266.9 L1638.8,267.2 L1639.8,267.5 L1640.8,267.8 L1641.8,268.1 L1642.8,268.4 L1643.8,268.7 L1644.8,269.1 L1645.8,269.4 L1646.8,269.7 L1647.8,270.0 L1648.8,270.3 L1649.8,270.7 L1650.8,271.0 L1651.8,271.3 L1652.8,271.6 L1653.8,272.0 L1654.8,272.3 L1655.8,272.6 L1656.8,273.0 L1657.8,273.3 L1658.8,273.6 L1659.8,274.0 L1660.8,274.3 L1661.8,274.7 L1662.8,275.0 L1663.8,275.3 L1664.8,275.7 L1665.8,276.0 L1666.8,276.4 L1667.8,276.7 L1668.8,277.1 L1669.8,277.4 L1670.8,277.8 L1671.8,278.1 L1672.8,278.5 L1673.8,278.9 L1674.8,279.2 L1675.8,279.6 L1676.8,279.9 L1677.8,280.3 L1678.8,280.7 L1679.8,281.0 L1680.8,281.4 L1681.8,281.8 L1682.8,282.1 L1683.8,282.5 L1684.8,282.9 L1685.8,283.3 L1686.8,283.7 L1687.8,284.0 L1688.8,284.4 L1689.8,284.8 L1690.8,285.2 L1691.8,285.6 L1692.8,286.0 L1693.8,286.4 L1694.8,286.7 L1695.8,287.1 L1696.8,287.5 L1697.8,287.9 L1698.8,288.3 L1699.8,288.7 L1700.8,289.1 L1701.8,289.5 L1702.8,290.0 L1703.8,290.4 L1704.8,290.8 L1705.8,291.2 L1706.8,291.6 L1707.8,292.0 L1708.8,292.4 L1709.8,292.9 L1710.8,293.3 L1711.8,293.7 L1712.8,294.2 L1713.8,294.6 L1714.8,295.0 L1715.8,295.5 L1716.8,295.9 L1717.8,296.3 L1718.8,296.8 L1719.8,297.2 L1720.8,297.7 L1721.8,298.1 L1722.8,298.6 L1723.8,299.0 L1724.8,299.5 L1725.8,299.9 L1726.8,300.4 L1727.8,300.9 L1728.8,301.3 L1729.8,301.8 L1730.8,302.3 L1731.8,302.7 L1732.8,303.2 L1733.8,303.7 L1734.8,304.2 L1735.8,304.7 L1736.8,305.2 L1737.8,305.7 L1738.8,306.1 L1739.8,306.6 L1740.8,307.1 L1741.8,307.6 L1742.8,308.2 L1743.8,308.7 L1744.8,309.2 L1745.8,309.7 L1746.8,310.2 L1747.8,310.7 L1748.8,311.3 L1749.8,311.8 L1750.8,312.3 L1751.8,312.8 L1752.8,313.4 L1753.8,313.9 L1754.8,314.5 L1755.8,315.0 L1756.8,315.6 L1757.8,316.1 L1758.8,316.7 L1759.8,317.3 L1760.8,317.8 L1761.8,318.4 L1762.8,319.0 L1763.8,319.5 L1764.8,320.1 L1765.8,320.7 L1766.8,321.3 L1767.8,321.9 L1768.8,322.5 L1769.8,323.1 L1770.8,323.7 L1771.8,324.3 L1772.8,324.9 L1773.8,325.6 L1774.8,326.2 L1775.8,326.8 L1776.8,327.4 L1777.8,328.1 L1778.8,328.7 L1779.8,329.4 L1780.8,330.0 L1781.8,330.7 L1782.8,331.4 L1783.8,332.0 L1784.8,332.7 L1785.8,333.4 L1786.8,334.1 L1787.8,334.8 L1788.8,335.5 L1789.8,336.2 L1790.8,336.9 L1791.8,337.6 L1792.8,338.3 L1793.8,339.0 L1794.8,339.8 L1795.8,340.5 L1796.8,341.2 L1797.8,342.0 L1798.8,342.7 L1799.8,343.5 L1800.8,344.3 L1801.8,345.1 L1802.8,345.8 L1803.8,346.6 L1804.8,347.4 L1805.8,348.2 L1806.8,349.1 L1807.8,349.9 L1808.8,350.7 L1809.8,351.6 L1810.8,352.4 L1811.8,353.3 L1812.8,354.1 L1813.8,355.0 L1814.8,355.9 L1815.8,356.8 L1816.8,357.7 L1817.8,358.6 L1818.8,359.5 L1819.7,360.4 L1820.7,361.3 L1821.7,362.3 L1822.7,363.2 L1823.7,364.2 L1824.7,365.2 L1825.7,366.2 L1826.7,367.2 L1827.7,368.2 L1828.7,369.2 L1829.7,370.2 L1830.7,371.3 L1831.7,372.3 L1832.7,373.4 L1833.7,374.5 L1834.7,375.6 L1835.7,376.7 L1836.7,377.8 L1837.7,379.0 L1838.7,380.1 L1839.7,381.3 L1840.7,382.4 L1841.7,383.6 L1842.7,384.8 L1843.7,386.1 L1844.7,387.3 L1845.7,388.6 L1846.7,389.8 L1847.6,391.1 L1848.6,392.4 L1849.6,393.7 L1850.6,395.1 L1851.6,396.4 L1852.6,397.8 L1853.6,399.2 L1854.6,400.6 L1855.6,402.1 L1856.6,403.5 L1857.6,405.0 L1858.6,406.5 L1859.6,408.0 L1860.6,409.5 L1861.6,411.1 L1862.6,412.7 L1863.6,414.3 L1864.6,415.9 L1865.5,417.6 L1866.5,419.2 L1867.5,420.9 L1868.5,422.7 L1869.5,424.4 L1870.5,426.2 L1871.5,428.0 L1872.5,429.9 L1873.5,431.7 L1874.5,433.6 L1875.5,435.5 L1876.5,437.5 L1877.5,439.5 L1878.5,441.5 L1879.4,443.5 L1880.4,445.6 L1881.4,447.7 L1882.4,449.8 L1883.4,452.0 L1884.4,454.2 L1885.4,456.4 L1886.4,458.7 L1887.4,461.0 L1888.4,463.3 L1889.4,465.7 L1890.3,468.1 L1891.3,470.5 L1892.3,473.0 L1893.3,475.5 L1894.3,478.0 L1895.3,480.6 L1896.3,483.2 L1897.3,485.8 L1898.3,488.5 L1899.3,491.2 L1900.2,494.0 L1901.2,496.8 L1902.2,499.6 L1903.2,502.5 L1904.2,505.4 L1905.2,508.3 L1906.2,511.3 L1907.2,514.3 L1908.2,517.3 L1909.2,520.4 L1910.1,523.5 L1911.1,526.6 L1912.1,529.8 L1913.1,533.0 L1914.1,536.3 L1915.1,539.5 L1916.1,542.8 L1917.1,546.2 L1918.1,549.5 L1919.0,552.9 L1920.0,556.4 L1921.0,559.8 L1922.0,563.3 L1923.0,566.8 L1924.0,570.3 L1925.0,573.9 L1926.0,577.5 L1927.0,581.1 L1928.0,584.7 L1928.9,588.4 L1929.9,592.1 L1930.9,595.8 L1931.9,599.5 L1932.9,603.2 L1933.9,607.0 L1934.9,610.8 L1935.9,614.6 L1936.9,618.4 L1937.9,622.2 L1938.9,626.1 L1939.8,630.0 L1940.8,633.9 L1941.8,637.8 L1942.8,641.7 L1943.8,645.6 L1944.8,649.6 L1945.8,653.5 L1946.8,657.5 L1947.8,661.5 L1948.8,665.5 L1949.8,669.5 L1950.8,673.5 L1951.8,677.5 L1952.8,681.6 L1953.8,685.6 L1954.8,689.7 L1955.8,693.7 L1956.8,697.8 L1957.8,701.9 L1958.8,706.0 L1959.8,710.1 L1960.8,714.2 L1961.8,718.3 L1962.8,722.4 L1963.8,726.5 L1964.8,730.6 L1965.8,734.8 L1966.8,738.9 L1967.8,743.0 L1968.8,747.2 L1969.8,751.3 L1970.8,755.5 L1971.8,759.7 L1972.8,763.8 L1973.8,768.0 L1974.8,772.2 L1975.8,776.3 L1976.8,780.5 L1977.8,784.7 L1978.8,788.9 L1979.8,793.1 L1980.8,797.3 L1981.8,801.4 L1982.9,805.6 L1983.9,809.8 L1984.9,814.0 L1985.9,818.2 L1986.9,822.4 L1987.9,826.6 L1988.9,830.8 L1989.9,835.1 L1991.0,839.3 L1992.0,843.5 L1993.0,847.7 L1994.0,851.9 L1995.0,856.1 L1996.0,860.3 L1997.0,864.5 L1998.1,868.8 L1999.1,873.0 L2000.1,877.2 L2001.1,881.4 L2002.1,885.6 L2003.2,889.9 L2004.2,894.1 L2005.2,898.3 L2006.2,902.5 L2007.3,906.7 L2008.3,911.0 L2009.3,915.2 L2010.3,919.4 L2011.4,923.6 L2012.4,927.9 L2013.4,932.1 L2014.5,936.3 L2015.5,940.6 L2016.5,944.8 L2017.5,949.0 L2018.6,953.2 L2019.6,957.5 L2020.6,961.7 L2021.7,965.9 L2022.7,970.2 L2023.8,974.4 L2024.8,978.6 L2025.8,982.8 L2026.9,987.1 L2027.9,991.3 L2028.9,995.5 L2030.0,999.8 L2031.0,1004.0 L2032.1,1008.2 L2033.1,1012.5 L2034.2,1016.7 L2035.2,1020.9 L2036.2,1025.1 L2037.3,1029.4 L2038.3,1033.6 L2039.4,1037.8 L2040.4,1042.1 L2041.5,1046.3 L2042.5,1050.5 L2043.6,1054.8 L2044.6,1059.0 L2045.7,1063.2 L2046.8,1067.4 L2047.8,1071.7 L2048.9,1075.9 L2049.9,1080.1 L2051.0,1084.4 L2052.0,1088.6 L2053.1,1092.8 L2054.2,1097.0 L2055.2,1101.3 L2056.3,1105.5 L2057.4,1109.7 L2058.4,1114.0 L2059.5,1118.2 L2060.5,1122.4 L2061.6,1126.6 L2062.6,1130.9 L2063.6,1135.1 L2064.6,1139.4 L2065.6,1143.6 L2066.6,1147.9 L2067.6,1152.1 L2068.6,1156.4 L2069.6,1160.6 L2070.6,1164.8 L2071.6,1169.1 L2072.6,1173.3 L2073.6,1177.6 L2074.6,1181.8 L2075.6,1186.1 L2076.6,1190.3 L2077.6,1194.5"/>
</g>
</g>
<g id="ytick-labels">
<text clip-path="url(#k1)" transform="scale(1,1.04)"><tspan x="147.2" y="114.2">1</tspan><tspan x="186.4" y="114.2">0</tspan><tspan x="228.8" y="92.8" font-size="50.6">&#8722;</tspan><tspan x="257.9" y="92.8" font-size="50.6">3</tspan></text>
<text clip-path="url(#k2)" transform="scale(1,1.04)"><tspan x="147.2" y="490.3">1</tspan><tspan x="186.9" y="490.3">0</tspan><tspan x="228.8" y="468.3" font-size="50.6">&#8722;</tspan><tspan x="257.2" y="468.3" font-size="50.6">7</tspan></text>
<text clip-path="url(#k3)" transform="scale(1,1.04)"><tspan x="123.1" y="869.2">1</tspan><tspan x="163.1" y="869.2">0</tspan><tspan x="204.1" y="847.2" font-size="50.6">&#8722;</tspan><tspan x="234.7" y="847.2" font-size="50.6">1</tspan><tspan x="259.0" y="847.2" font-size="50.6">1</tspan></text>
<text clip-path="url(#k4)" transform="scale(1,1.04)"><tspan x="119.2" y="1246.9">1</tspan><tspan x="159.2" y="1246.9">0</tspan><tspan x="200.5" y="1224.6" font-size="50.6">&#8722;</tspan><tspan x="231.0" y="1224.6" font-size="50.6">1</tspan><tspan x="259.0" y="1224.6" font-size="50.6">5</tspan></text>
</g>
<g id="xtick-labels">
<text transform="scale(1,1.04)"><tspan x="334.6" y="1329.7">0</tspan></text>
<text transform="scale(1,1.04)"><tspan x="458.1" y="1329.7">0.5</tspan></text>
<text clip-path="url(#k5)" transform="scale(1,1.04)"><tspan x="645.4" y="1329.7">1</tspan></text>
<text clip-path="url(#k6)" transform="scale(1,1.04)"><tspan x="768.9" y="1329.7">1.5</tspan></text>
<text transform="scale(1,1.04)"><tspan x="954.2" y="1329.7">2</tspan></text>
<text transform="scale(1,1.04)"><tspan x="1077.7" y="1329.7">2.5</tspan></text>
<text transform="scale(1,1.04)"><tspan x="1265.6" y="1329.7">0</tspan></text>
<text transform="scale(1,1.04)"><tspan x="1389.1" y="1329.7">0.5</tspan></text>
<text clip-path="url(#k7)" transform="scale(1,1.04)"><tspan x="1576.4" y="1329.7">1</tspan></text>
<text clip-path="url(#k8)" transform="scale(1,1.04)"><tspan x="1699.9" y="1329.7">1.5</tspan></text>
<text transform="scale(1,1.04)"><tspan x="1885.2" y="1329.7">2</tspan></text>
<text transform="scale(1,1.04)"><tspan x="2008.7" y="1329.7">2.5</tspan></text>
</g>
<g id="axis-labels">
<text class="b" transform="scale(1,1.02)"><tspan x="462.9" y="1455.8">Gate </tspan><tspan x="651.5" y="1455.8">Voltage </tspan><tspan x="939.6" y="1455.8" font-size="72.6">(</tspan><tspan x="963.5" y="1455.8">V</tspan><tspan x="1017.1" y="1455.8" font-size="72.6">)</tspan></text>
<text class="b" transform="scale(1,1.02)"><tspan x="1387.9" y="1459.6">Gate </tspan><tspan x="1576.5" y="1459.6">Voltage </tspan><tspan x="1864.6" y="1459.6" font-size="72.6">(</tspan><tspan x="1888.5" y="1459.6">V</tspan><tspan x="1942.1" y="1459.6" font-size="72.6">)</tspan></text>
<text class="b" transform="translate(95.3,978.0) rotate(-90) scale(1,1.02)"><tspan x="1.2" y="0.0">Drain </tspan><tspan x="214.1" y="0.0">Current </tspan><tspan x="506.5" y="0.0" font-size="72.6">(</tspan><tspan x="529.1" y="0.0">A</tspan><tspan x="588.8" y="0.0" font-size="72.6">)</tspan></text>
</g>
<g id="legend-a">
<text transform="scale(1,1.04)"><tspan x="471.3" y="892.3">V</tspan><tspan x="521.1" y="909.6" font-size="50.6">TG</tspan><tspan x="612.6" y="892.3" font-size="71">(</tspan><tspan x="637.6" y="892.3">V</tspan><tspan x="687.2" y="892.3" font-size="71">)</tspan></text>
<path class="lh" stroke="#ff0000" d="M471,1031.8 H556"/>
<text transform="scale(1,1.04)"><tspan x="581.7" y="1019.4">0</tspan></text>
<path class="lh" stroke="#0000ff" d="M473,1140.5 H559"/>
<text transform="scale(1,1.04)"><tspan x="579.6" y="1123.8">2.5</tspan></text>
</g>
<g id="legend-b">
<text transform="scale(1,1.02)"><tspan x="1339.3" y="818.8">Tempera</tspan><tspan x="1632.9" y="818.8">ture </tspan><tspan x="1784.3" y="818.8" font-size="72.6">(</tspan><tspan x="1808.6" y="818.8">K</tspan><tspan x="1859.5" y="818.8" font-size="72.6">)</tspan></text>
<path class="lh" stroke="#0000ff" d="M1346,938.5 H1431"/>
<text transform="scale(1,1.04)"><tspan x="1455.8" y="929.0">253</tspan></text>
<path class="lh" stroke="#ff0000" d="M1348,1046.8 H1434"/>
<text transform="scale(1,1.04)"><tspan x="1457.1" y="1033.7">300</tspan></text>
<path class="lh" stroke="#000000" d="M1348,1154.8 H1434"/>
<text transform="scale(1,1.04)"><tspan x="1457.1" y="1137.7">353</tspan></text>
</g>
<g id="annotations">
<text transform="scale(1,1.0)"><tspan x="1021.6" y="174.2">a.</tspan></text>
<text transform="scale(1,0.99)"><tspan x="1957.1" y="173.7">b.</tspan></text>
<path class="an" d="M935.2,306.8 L797,395.6"/>
<path fill="#000" d="M781.8,405.8 L794.9,382.6 L809.1,403.3 Z"/>
<text transform="scale(1,1.04)"><tspan x="806.7" y="451.0">V</tspan><tspan x="856.2" y="468.1" font-size="50.6">TG</tspan></text>
<path class="an" d="M1401.9,138.5 Q1349.5,183 1347.2,249"/>
<path fill="#000" d="M1335,247.2 L1359.2,247.2 L1347.7,272 Z"/>
<text transform="scale(1,1.04)"><tspan x="1368.6" y="281.7">T</tspan><tspan x="1415.8" y="278.0" font-size="70">&#176;</tspan></text>
<ellipse class="an" cx="1826.5" cy="374.3" rx="26.3" ry="66.5"/>
<text transform="scale(1,1.04)"><tspan x="1870.2" y="361.5">ZTC</tspan></text>
<path class="an" d="M1871.9,727.4 Q1958.5,716 1989.5,659.8"/>
<path fill="#000" d="M2000.6,639.4 L1978.1,654.8 L1999.8,666.9 Z"/>
<text transform="scale(1,1.04)"><tspan x="1985.5" y="722.9">T</tspan><tspan x="2032.6" y="719.1" font-size="70">&#176;</tspan></text>
</g>
</g>
</svg>
</body>
</html>
